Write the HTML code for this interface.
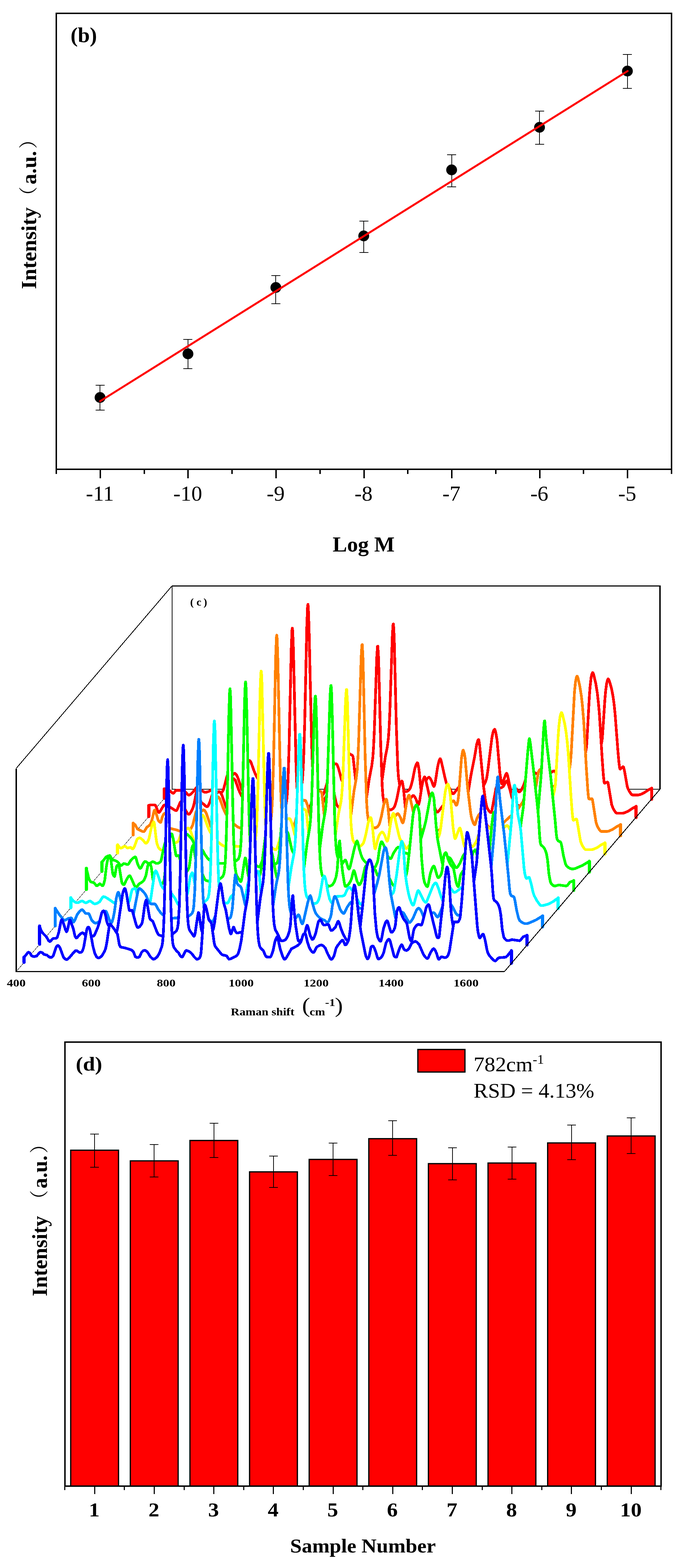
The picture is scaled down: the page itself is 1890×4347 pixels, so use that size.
<!DOCTYPE html>
<html lang="en"><head><meta charset="utf-8"><title>Figure</title>
<style>
html,body{margin:0;padding:0;background:#fff;}
svg{display:block;font-family:'Liberation Serif', 'Noto Serif CJK SC', serif;}
</style></head>
<body>
<svg width="1890" height="4347" viewBox="0 0 1890 4347">
<rect width="1890" height="4347" fill="#fff"/>
<g shape-rendering="crispEdges">
<rect x="156.0" y="37.0" width="1705.0" height="1264.2" fill="none" stroke="#000" stroke-width="4"/>
<line x1="277.79" y1="1301.20" x2="277.79" y2="1326.20" stroke="#000" stroke-width="4" />
<line x1="521.36" y1="1301.20" x2="521.36" y2="1326.20" stroke="#000" stroke-width="4" />
<line x1="764.93" y1="1301.20" x2="764.93" y2="1326.20" stroke="#000" stroke-width="4" />
<line x1="1008.50" y1="1301.20" x2="1008.50" y2="1326.20" stroke="#000" stroke-width="4" />
<line x1="1252.07" y1="1301.20" x2="1252.07" y2="1326.20" stroke="#000" stroke-width="4" />
<line x1="1495.64" y1="1301.20" x2="1495.64" y2="1326.20" stroke="#000" stroke-width="4" />
<line x1="1739.21" y1="1301.20" x2="1739.21" y2="1326.20" stroke="#000" stroke-width="4" />
<line x1="156.00" y1="1301.20" x2="156.00" y2="1314.20" stroke="#000" stroke-width="4" />
<line x1="399.57" y1="1301.20" x2="399.57" y2="1314.20" stroke="#000" stroke-width="4" />
<line x1="643.14" y1="1301.20" x2="643.14" y2="1314.20" stroke="#000" stroke-width="4" />
<line x1="886.71" y1="1301.20" x2="886.71" y2="1314.20" stroke="#000" stroke-width="4" />
<line x1="1130.29" y1="1301.20" x2="1130.29" y2="1314.20" stroke="#000" stroke-width="4" />
<line x1="1373.86" y1="1301.20" x2="1373.86" y2="1314.20" stroke="#000" stroke-width="4" />
<line x1="1617.43" y1="1301.20" x2="1617.43" y2="1314.20" stroke="#000" stroke-width="4" />
<line x1="1861.00" y1="1301.20" x2="1861.00" y2="1314.20" stroke="#000" stroke-width="4" />
</g>
<text x="276.79" y="1387.50" font-size="60" font-weight="normal" text-anchor="middle" >-11</text>
<text x="520.36" y="1387.50" font-size="60" font-weight="normal" text-anchor="middle" >-10</text>
<text x="763.93" y="1387.50" font-size="60" font-weight="normal" text-anchor="middle" >-9</text>
<text x="1007.50" y="1387.50" font-size="60" font-weight="normal" text-anchor="middle" >-8</text>
<text x="1251.07" y="1387.50" font-size="60" font-weight="normal" text-anchor="middle" >-7</text>
<text x="1494.64" y="1387.50" font-size="60" font-weight="normal" text-anchor="middle" >-6</text>
<text x="1738.21" y="1387.50" font-size="60" font-weight="normal" text-anchor="middle" >-5</text>
<text x="1007.70" y="1529.00" font-size="60" font-weight="bold" text-anchor="middle" >Log M</text>
<text transform="translate(100,799.5) rotate(-90)" font-weight="bold" font-size="60"><tspan x="-2" y="0">Intensity</tspan><tspan x="230.3" y="-3" font-size="52" font-weight="normal">（</tspan><tspan x="288" y="0">a.u.</tspan><tspan x="387" y="-3" font-size="52" font-weight="normal">）</tspan></text>
<text x="195.50" y="116.50" font-size="60" font-weight="bold" text-anchor="start" >(b)</text>
<g shape-rendering="crispEdges">
<line x1="277.29" y1="1068.00" x2="277.29" y2="1137.00" stroke="#000" stroke-width="2" />
<line x1="264.79" y1="1068.00" x2="289.79" y2="1068.00" stroke="#000" stroke-width="2" />
<line x1="264.79" y1="1137.00" x2="289.79" y2="1137.00" stroke="#000" stroke-width="2" />
<line x1="520.86" y1="941.00" x2="520.86" y2="1022.00" stroke="#000" stroke-width="2" />
<line x1="508.36" y1="941.00" x2="533.36" y2="941.00" stroke="#000" stroke-width="2" />
<line x1="508.36" y1="1022.00" x2="533.36" y2="1022.00" stroke="#000" stroke-width="2" />
<line x1="764.43" y1="764.00" x2="764.43" y2="842.00" stroke="#000" stroke-width="2" />
<line x1="751.93" y1="764.00" x2="776.93" y2="764.00" stroke="#000" stroke-width="2" />
<line x1="751.93" y1="842.00" x2="776.93" y2="842.00" stroke="#000" stroke-width="2" />
<line x1="1008.00" y1="612.60" x2="1008.00" y2="699.60" stroke="#000" stroke-width="2" />
<line x1="995.50" y1="612.60" x2="1020.50" y2="612.60" stroke="#000" stroke-width="2" />
<line x1="995.50" y1="699.60" x2="1020.50" y2="699.60" stroke="#000" stroke-width="2" />
<line x1="1251.57" y1="428.70" x2="1251.57" y2="518.00" stroke="#000" stroke-width="2" />
<line x1="1239.07" y1="428.70" x2="1264.07" y2="428.70" stroke="#000" stroke-width="2" />
<line x1="1239.07" y1="518.00" x2="1264.07" y2="518.00" stroke="#000" stroke-width="2" />
<line x1="1495.14" y1="308.00" x2="1495.14" y2="400.00" stroke="#000" stroke-width="2" />
<line x1="1482.64" y1="308.00" x2="1507.64" y2="308.00" stroke="#000" stroke-width="2" />
<line x1="1482.64" y1="400.00" x2="1507.64" y2="400.00" stroke="#000" stroke-width="2" />
<line x1="1738.71" y1="151.00" x2="1738.71" y2="244.70" stroke="#000" stroke-width="2" />
<line x1="1726.21" y1="151.00" x2="1751.21" y2="151.00" stroke="#000" stroke-width="2" />
<line x1="1726.21" y1="244.70" x2="1751.21" y2="244.70" stroke="#000" stroke-width="2" />
</g>
<circle cx="277.29" cy="1102" r="15" fill="#000"/>
<circle cx="520.86" cy="981" r="15" fill="#000"/>
<circle cx="764.43" cy="797" r="15" fill="#000"/>
<circle cx="1008.00" cy="654" r="15" fill="#000"/>
<circle cx="1251.57" cy="471" r="15" fill="#000"/>
<circle cx="1495.14" cy="353" r="15" fill="#000"/>
<circle cx="1738.71" cy="197" r="15" fill="#000"/>
<line x1="277.79" y1="1112.00" x2="1739.21" y2="197.00" stroke="#ff0000" stroke-width="5.5" stroke-linecap="round"/>
<g shape-rendering="crispEdges" stroke="#000" fill="none">
<path d="M476.8 2188.0 L476.8 1624.6" stroke-width="2"/>
<path d="M476.0 1624.6 L1830.7 1624.6" stroke-width="3"/>
<path d="M1829.0 1624.6 L1829.0 2188.0" stroke-width="3.4"/>
<path d="M477.0 2188.0 L1829.0 2188.0" stroke-width="2"/>
<path d="M46.0 2692.4 L477.0 2188.0" stroke-width="1"/>
</g>
<g fill="#fff" stroke-width="7.5" stroke-linejoin="round" stroke-linecap="round" shape-rendering="crispEdges">
<path d="M455.4 2213.2L455.4 2186.9L460.4 2186.1L463.4 2186.5L476.4 2197.3L479.4 2199.1L481.4 2198.8L486.4 2192.4L488.4 2191.1L500.4 2191.0L507.4 2192.1L514.4 2196.1L520.4 2202.9L523.4 2204.5L526.4 2203.4L530.4 2200.1L535.4 2195.0L544.4 2183.0L546.4 2182.1L548.4 2183.0L562.4 2194.0L567.4 2196.4L572.4 2196.1L578.4 2194.3L581.4 2192.7L585.4 2189.4L587.4 2188.6L591.4 2190.3L602.4 2198.9L612.4 2199.0L615.4 2196.2L619.4 2188.8L629.4 2150.5L633.4 2142.9L636.4 2140.2L638.4 2141.0L643.4 2148.0L645.4 2147.6L648.4 2144.9L650.4 2144.0L652.4 2144.9L655.4 2148.5L658.4 2154.1L670.4 2189.7L671.4 2191.2L672.4 2191.3L674.4 2186.6L677.4 2172.8L683.4 2133.4L686.4 2118.2L688.4 2110.6L689.4 2108.7L690.4 2108.1L692.4 2109.1L695.4 2112.6L704.4 2138.2L708.4 2147.8L712.4 2155.5L723.4 2172.6L730.4 2180.3L745.4 2191.8L750.4 2193.8L762.4 2195.6L782.4 2194.5L816.4 2195.9L824.4 2194.5L828.4 2192.6L831.4 2190.1L834.4 2184.3L837.4 2168.0L839.4 2144.6L841.4 2104.6L844.4 2005.3L850.4 1731.7L852.4 1681.1L853.4 1675.3L854.4 1683.9L856.4 1739.1L863.4 2050.9L865.4 2109.5L867.4 2147.5L870.4 2176.5L873.4 2187.4L877.4 2193.1L884.4 2199.4L890.4 2203.2L894.4 2204.1L897.4 2199.2L904.4 2177.6L914.4 2138.1L919.4 2125.9L922.4 2121.5L925.4 2118.7L931.4 2117.5L933.4 2118.8L934.4 2120.5L938.4 2130.9L946.4 2161.7L948.4 2165.5L949.4 2161.7L950.4 2149.2L955.4 2071.5L957.4 2057.5L959.4 2051.1L960.4 2050.3L961.4 2052.1L962.4 2056.6L966.4 2087.5L968.4 2089.7L976.4 2094.0L978.4 2097.8L985.4 2162.5L987.4 2173.3L990.4 2179.2L999.4 2189.6L1003.4 2193.3L1010.4 2197.4L1015.4 2198.8L1033.4 2196.5L1045.4 2193.9L1048.4 2192.3L1050.4 2190.5L1053.4 2185.1L1056.4 2175.2L1059.4 2159.3L1067.4 2100.9L1073.4 2070.0L1076.4 2046.1L1078.4 2016.9L1080.4 1973.0L1087.4 1759.9L1089.4 1730.3L1090.4 1729.9L1092.4 1766.6L1098.4 2015.1L1102.4 2127.8L1104.4 2155.7L1107.4 2175.4L1110.4 2182.4L1115.4 2188.9L1119.4 2192.3L1123.4 2194.3L1127.4 2194.3L1132.4 2191.2L1136.4 2186.1L1139.4 2177.5L1143.4 2162.1L1149.4 2131.5L1153.4 2119.5L1156.4 2114.8L1157.4 2115.2L1158.4 2117.7L1161.4 2135.3L1166.4 2187.5L1168.4 2200.2L1169.4 2201.5L1170.4 2199.6L1176.4 2175.6L1179.4 2166.0L1183.4 2159.2L1187.4 2155.2L1189.4 2154.9L1192.4 2158.0L1196.4 2165.7L1200.4 2177.4L1202.4 2180.3L1203.4 2179.4L1204.4 2176.8L1206.4 2168.0L1212.4 2128.4L1214.4 2118.6L1217.4 2107.2L1219.4 2103.4L1220.4 2103.5L1222.4 2108.5L1234.4 2161.6L1237.4 2172.3L1240.4 2177.8L1246.4 2185.6L1252.4 2197.9L1254.4 2200.4L1256.4 2200.5L1258.4 2199.0L1269.4 2184.3L1273.4 2181.1L1275.4 2181.3L1277.4 2182.8L1290.4 2197.7L1293.4 2200.2L1295.4 2200.9L1302.4 2200.0L1316.4 2196.1L1324.4 2193.0L1330.4 2189.7L1335.4 2185.2L1340.4 2178.1L1345.4 2167.6L1348.4 2158.8L1351.4 2140.3L1363.4 2043.8L1366.4 2030.1L1368.4 2024.4L1370.4 2021.9L1371.4 2022.5L1373.4 2027.9L1377.4 2050.7L1385.4 2144.2L1389.4 2170.7L1390.4 2173.1L1391.4 2173.3L1392.4 2172.0L1401.4 2147.4L1403.4 2144.0L1404.4 2144.1L1405.4 2145.9L1407.4 2153.3L1415.4 2191.1L1417.4 2195.3L1418.4 2195.3L1420.4 2193.6L1426.4 2185.7L1428.4 2185.1L1430.4 2186.3L1437.4 2195.0L1439.4 2195.5L1441.4 2194.4L1444.4 2190.5L1450.4 2179.1L1460.4 2149.5L1462.4 2146.8L1466.4 2143.5L1472.4 2140.4L1475.4 2140.0L1479.4 2140.8L1494.4 2148.7L1498.4 2149.8L1501.4 2149.9L1508.4 2148.9L1516.4 2146.4L1526.4 2142.2L1533.4 2137.4L1535.4 2137.2L1537.4 2138.7L1542.4 2147.0L1545.4 2150.2L1553.4 2154.0L1561.4 2157.0L1569.4 2159.0L1576.4 2159.9L1586.4 2159.7L1597.4 2157.9L1608.4 2154.7L1620.4 2149.8L1623.4 2147.7L1627.4 2143.2L1634.4 2131.9L1650.4 2099.2L1660.4 2081.6L1663.4 2074.1L1666.4 2063.8L1668.4 2053.4L1669.4 2043.8L1676.4 1938.1L1678.4 1915.3L1681.4 1893.4L1683.4 1885.6L1685.4 1882.1L1686.4 1882.6L1688.4 1886.8L1694.4 1907.6L1698.4 1928.1L1701.4 1949.1L1704.4 1976.8L1712.4 2082.0L1715.4 2115.0L1717.4 2130.2L1718.4 2132.2L1719.4 2132.1L1726.4 2125.3L1727.4 2125.7L1728.4 2127.6L1730.4 2136.0L1738.4 2181.1L1740.4 2186.8L1743.4 2192.9L1748.4 2200.5L1751.4 2203.4L1753.4 2204.0L1768.4 2204.0L1774.4 2202.7L1784.4 2198.3L1795.4 2190.8L1806.0 2185.2L1806.0 2215.7Z" stroke="none"/>
<path d="M455.4 2213.2L455.4 2186.9L460.4 2186.1L463.4 2186.5L476.4 2197.3L479.4 2199.1L481.4 2198.8L486.4 2192.4L488.4 2191.1L500.4 2191.0L507.4 2192.1L514.4 2196.1L520.4 2202.9L523.4 2204.5L526.4 2203.4L530.4 2200.1L535.4 2195.0L544.4 2183.0L546.4 2182.1L548.4 2183.0L562.4 2194.0L567.4 2196.4L572.4 2196.1L578.4 2194.3L581.4 2192.7L585.4 2189.4L587.4 2188.6L591.4 2190.3L602.4 2198.9L612.4 2199.0L615.4 2196.2L619.4 2188.8L629.4 2150.5L633.4 2142.9L636.4 2140.2L638.4 2141.0L643.4 2148.0L645.4 2147.6L648.4 2144.9L650.4 2144.0L652.4 2144.9L655.4 2148.5L658.4 2154.1L670.4 2189.7L671.4 2191.2L672.4 2191.3L674.4 2186.6L677.4 2172.8L683.4 2133.4L686.4 2118.2L688.4 2110.6L689.4 2108.7L690.4 2108.1L692.4 2109.1L695.4 2112.6L704.4 2138.2L708.4 2147.8L712.4 2155.5L723.4 2172.6L730.4 2180.3L745.4 2191.8L750.4 2193.8L762.4 2195.6L782.4 2194.5L816.4 2195.9L824.4 2194.5L828.4 2192.6L831.4 2190.1L834.4 2184.3L837.4 2168.0L839.4 2144.6L841.4 2104.6L844.4 2005.3L850.4 1731.7L852.4 1681.1L853.4 1675.3L854.4 1683.9L856.4 1739.1L863.4 2050.9L865.4 2109.5L867.4 2147.5L870.4 2176.5L873.4 2187.4L877.4 2193.1L884.4 2199.4L890.4 2203.2L894.4 2204.1L897.4 2199.2L904.4 2177.6L914.4 2138.1L919.4 2125.9L922.4 2121.5L925.4 2118.7L931.4 2117.5L933.4 2118.8L934.4 2120.5L938.4 2130.9L946.4 2161.7L948.4 2165.5L949.4 2161.7L950.4 2149.2L955.4 2071.5L957.4 2057.5L959.4 2051.1L960.4 2050.3L961.4 2052.1L962.4 2056.6L966.4 2087.5L968.4 2089.7L976.4 2094.0L978.4 2097.8L985.4 2162.5L987.4 2173.3L990.4 2179.2L999.4 2189.6L1003.4 2193.3L1010.4 2197.4L1015.4 2198.8L1033.4 2196.5L1045.4 2193.9L1048.4 2192.3L1050.4 2190.5L1053.4 2185.1L1056.4 2175.2L1059.4 2159.3L1067.4 2100.9L1073.4 2070.0L1076.4 2046.1L1078.4 2016.9L1080.4 1973.0L1087.4 1759.9L1089.4 1730.3L1090.4 1729.9L1092.4 1766.6L1098.4 2015.1L1102.4 2127.8L1104.4 2155.7L1107.4 2175.4L1110.4 2182.4L1115.4 2188.9L1119.4 2192.3L1123.4 2194.3L1127.4 2194.3L1132.4 2191.2L1136.4 2186.1L1139.4 2177.5L1143.4 2162.1L1149.4 2131.5L1153.4 2119.5L1156.4 2114.8L1157.4 2115.2L1158.4 2117.7L1161.4 2135.3L1166.4 2187.5L1168.4 2200.2L1169.4 2201.5L1170.4 2199.6L1176.4 2175.6L1179.4 2166.0L1183.4 2159.2L1187.4 2155.2L1189.4 2154.9L1192.4 2158.0L1196.4 2165.7L1200.4 2177.4L1202.4 2180.3L1203.4 2179.4L1204.4 2176.8L1206.4 2168.0L1212.4 2128.4L1214.4 2118.6L1217.4 2107.2L1219.4 2103.4L1220.4 2103.5L1222.4 2108.5L1234.4 2161.6L1237.4 2172.3L1240.4 2177.8L1246.4 2185.6L1252.4 2197.9L1254.4 2200.4L1256.4 2200.5L1258.4 2199.0L1269.4 2184.3L1273.4 2181.1L1275.4 2181.3L1277.4 2182.8L1290.4 2197.7L1293.4 2200.2L1295.4 2200.9L1302.4 2200.0L1316.4 2196.1L1324.4 2193.0L1330.4 2189.7L1335.4 2185.2L1340.4 2178.1L1345.4 2167.6L1348.4 2158.8L1351.4 2140.3L1363.4 2043.8L1366.4 2030.1L1368.4 2024.4L1370.4 2021.9L1371.4 2022.5L1373.4 2027.9L1377.4 2050.7L1385.4 2144.2L1389.4 2170.7L1390.4 2173.1L1391.4 2173.3L1392.4 2172.0L1401.4 2147.4L1403.4 2144.0L1404.4 2144.1L1405.4 2145.9L1407.4 2153.3L1415.4 2191.1L1417.4 2195.3L1418.4 2195.3L1420.4 2193.6L1426.4 2185.7L1428.4 2185.1L1430.4 2186.3L1437.4 2195.0L1439.4 2195.5L1441.4 2194.4L1444.4 2190.5L1450.4 2179.1L1460.4 2149.5L1462.4 2146.8L1466.4 2143.5L1472.4 2140.4L1475.4 2140.0L1479.4 2140.8L1494.4 2148.7L1498.4 2149.8L1501.4 2149.9L1508.4 2148.9L1516.4 2146.4L1526.4 2142.2L1533.4 2137.4L1535.4 2137.2L1537.4 2138.7L1542.4 2147.0L1545.4 2150.2L1553.4 2154.0L1561.4 2157.0L1569.4 2159.0L1576.4 2159.9L1586.4 2159.7L1597.4 2157.9L1608.4 2154.7L1620.4 2149.8L1623.4 2147.7L1627.4 2143.2L1634.4 2131.9L1650.4 2099.2L1660.4 2081.6L1663.4 2074.1L1666.4 2063.8L1668.4 2053.4L1669.4 2043.8L1676.4 1938.1L1678.4 1915.3L1681.4 1893.4L1683.4 1885.6L1685.4 1882.1L1686.4 1882.6L1688.4 1886.8L1694.4 1907.6L1698.4 1928.1L1701.4 1949.1L1704.4 1976.8L1712.4 2082.0L1715.4 2115.0L1717.4 2130.2L1718.4 2132.2L1719.4 2132.1L1726.4 2125.3L1727.4 2125.7L1728.4 2127.6L1730.4 2136.0L1738.4 2181.1L1740.4 2186.8L1743.4 2192.9L1748.4 2200.5L1751.4 2203.4L1753.4 2204.0L1768.4 2204.0L1774.4 2202.7L1784.4 2198.3L1795.4 2190.8L1806.0 2185.2L1806.0 2215.7" fill="none" stroke="#ff0000"/>
<path d="M455.4 2213.2L455.4 2186.9M1806.0 2215.7L1806.0 2185.2" fill="none" stroke="#ff0000" stroke-width="8.7"/>
<path d="M412.2 2263.8L412.2 2232.9L418.2 2231.4L428.2 2231.4L430.2 2232.0L432.2 2235.5L438.2 2250.6L440.2 2252.7L441.2 2252.4L443.2 2250.1L453.2 2233.6L456.2 2231.4L464.2 2233.5L485.2 2246.4L488.2 2247.3L489.2 2246.9L491.2 2243.8L499.2 2224.9L501.2 2222.1L502.2 2222.1L504.2 2225.1L509.2 2237.3L519.2 2254.5L522.2 2257.6L524.2 2257.5L526.2 2255.6L530.2 2249.6L535.2 2238.2L538.2 2227.0L545.2 2190.7L546.2 2187.5L547.2 2186.7L549.2 2191.9L555.2 2220.7L559.2 2225.8L565.2 2230.1L570.2 2234.9L573.2 2236.6L575.2 2236.0L576.2 2234.9L579.2 2229.0L582.2 2221.7L590.2 2196.8L593.2 2191.0L594.2 2190.8L595.2 2191.6L600.2 2198.6L602.2 2198.1L606.2 2194.8L607.2 2194.6L609.2 2195.4L613.2 2200.5L615.2 2204.6L626.2 2237.7L628.2 2241.8L629.2 2241.8L631.2 2237.2L634.2 2223.4L640.2 2183.9L643.2 2168.7L645.2 2161.2L646.2 2159.2L647.2 2158.6L649.2 2159.6L652.2 2163.2L661.2 2188.7L665.2 2198.4L669.2 2206.0L680.2 2223.2L687.2 2230.8L702.2 2242.3L707.2 2244.4L719.2 2246.1L740.2 2245.0L773.2 2246.5L778.2 2246.0L782.2 2244.8L786.2 2242.7L789.2 2239.9L792.2 2232.7L794.2 2221.6L796.2 2200.2L798.2 2163.0L801.2 2067.9L807.2 1797.7L809.2 1747.1L810.2 1741.3L811.2 1749.9L813.2 1805.1L820.2 2111.9L822.2 2167.6L824.2 2203.0L826.2 2223.1L829.2 2236.5L833.2 2242.9L843.2 2251.5L847.2 2254.1L850.2 2255.3L852.2 2254.1L862.2 2227.9L864.2 2224.6L866.2 2224.6L871.2 2230.5L876.2 2234.1L879.2 2235.2L882.2 2234.7L890.2 2230.0L894.2 2226.7L896.2 2223.5L902.2 2210.3L906.2 2203.8L908.2 2197.2L909.2 2190.2L915.2 2124.3L916.2 2116.0L917.2 2113.8L918.2 2118.6L924.2 2184.2L926.2 2200.4L931.2 2224.9L933.2 2231.1L935.2 2234.7L941.2 2240.7L948.2 2244.2L975.2 2245.8L988.2 2248.8L998.2 2248.5L1003.2 2247.4L1006.2 2245.5L1009.2 2240.6L1012.2 2231.2L1015.2 2216.2L1023.2 2159.4L1030.2 2123.4L1033.2 2100.1L1035.2 2071.6L1037.2 2028.7L1044.2 1820.8L1046.2 1791.9L1047.2 1791.5L1049.2 1827.2L1055.2 2069.9L1059.2 2179.9L1061.2 2207.1L1064.2 2226.3L1067.2 2233.1L1072.2 2239.6L1076.2 2242.9L1080.2 2244.9L1084.2 2244.9L1089.2 2241.7L1093.2 2236.7L1096.2 2228.1L1100.2 2212.7L1106.2 2182.0L1110.2 2170.0L1113.2 2165.3L1114.2 2165.8L1115.2 2168.3L1118.2 2185.8L1123.2 2238.0L1125.2 2250.7L1126.2 2252.1L1127.2 2250.2L1133.2 2226.1L1136.2 2216.6L1140.2 2209.8L1144.2 2205.7L1146.2 2205.4L1149.2 2208.6L1153.2 2216.3L1157.2 2228.0L1159.2 2230.8L1160.2 2229.9L1161.2 2227.3L1163.2 2218.5L1169.2 2179.0L1171.2 2169.1L1174.2 2157.7L1176.2 2153.9L1177.2 2154.0L1179.2 2159.1L1191.2 2212.2L1194.2 2222.8L1197.2 2228.4L1203.2 2236.1L1209.2 2248.5L1211.2 2250.9L1213.2 2251.1L1215.2 2249.5L1226.2 2234.9L1230.2 2231.6L1232.2 2231.9L1234.2 2233.3L1247.2 2248.3L1250.2 2250.7L1252.2 2251.4L1258.2 2250.8L1276.2 2246.4L1280.2 2245.0L1284.2 2242.7L1286.2 2240.8L1287.2 2237.6L1290.2 2215.2L1291.2 2212.2L1295.2 2205.7L1297.2 2198.8L1305.2 2149.0L1315.2 2098.5L1321.2 2062.9L1324.2 2053.0L1325.2 2051.0L1326.2 2050.3L1327.2 2052.2L1329.2 2065.9L1340.2 2180.8L1345.2 2218.3L1348.2 2233.7L1350.2 2240.1L1355.2 2248.7L1359.2 2252.5L1361.2 2252.4L1363.2 2246.6L1374.2 2187.0L1376.2 2180.4L1378.2 2180.8L1384.2 2184.8L1387.2 2184.6L1390.2 2183.3L1394.2 2180.6L1396.2 2178.4L1401.2 2168.1L1403.2 2165.5L1404.2 2165.2L1405.2 2166.0L1407.2 2169.8L1413.2 2189.2L1418.2 2209.5L1420.2 2215.3L1423.2 2221.4L1426.2 2226.2L1429.2 2229.4L1435.2 2232.6L1441.2 2234.6L1445.2 2234.7L1447.2 2231.8L1454.2 2205.9L1455.2 2203.2L1457.2 2200.3L1464.2 2197.3L1482.2 2193.1L1491.2 2187.7L1492.2 2187.7L1494.2 2189.3L1499.2 2197.5L1502.2 2200.7L1516.2 2206.9L1529.2 2210.0L1540.2 2210.4L1553.2 2208.7L1566.2 2204.8L1578.2 2199.4L1581.2 2196.3L1584.2 2191.7L1591.2 2176.5L1607.2 2132.3L1617.2 2108.4L1620.2 2098.3L1623.2 2084.7L1625.2 2071.4L1626.2 2059.5L1633.2 1932.0L1635.2 1904.5L1638.2 1878.1L1640.2 1868.7L1642.2 1864.5L1643.2 1865.1L1645.2 1870.2L1651.2 1895.5L1655.2 1920.7L1658.2 1946.8L1661.2 1980.9L1669.2 2109.8L1672.2 2150.0L1674.2 2168.6L1675.2 2171.1L1676.2 2171.3L1683.2 2168.2L1684.2 2168.8L1685.2 2171.2L1695.2 2230.9L1699.2 2241.4L1704.2 2249.7L1707.2 2253.3L1709.2 2254.4L1711.2 2254.5L1725.2 2254.5L1730.2 2253.6L1741.2 2248.8L1752.2 2241.3L1762.8 2235.7L1762.8 2266.3Z" stroke="none"/>
<path d="M412.2 2263.8L412.2 2232.9L418.2 2231.4L428.2 2231.4L430.2 2232.0L432.2 2235.5L438.2 2250.6L440.2 2252.7L441.2 2252.4L443.2 2250.1L453.2 2233.6L456.2 2231.4L464.2 2233.5L485.2 2246.4L488.2 2247.3L489.2 2246.9L491.2 2243.8L499.2 2224.9L501.2 2222.1L502.2 2222.1L504.2 2225.1L509.2 2237.3L519.2 2254.5L522.2 2257.6L524.2 2257.5L526.2 2255.6L530.2 2249.6L535.2 2238.2L538.2 2227.0L545.2 2190.7L546.2 2187.5L547.2 2186.7L549.2 2191.9L555.2 2220.7L559.2 2225.8L565.2 2230.1L570.2 2234.9L573.2 2236.6L575.2 2236.0L576.2 2234.9L579.2 2229.0L582.2 2221.7L590.2 2196.8L593.2 2191.0L594.2 2190.8L595.2 2191.6L600.2 2198.6L602.2 2198.1L606.2 2194.8L607.2 2194.6L609.2 2195.4L613.2 2200.5L615.2 2204.6L626.2 2237.7L628.2 2241.8L629.2 2241.8L631.2 2237.2L634.2 2223.4L640.2 2183.9L643.2 2168.7L645.2 2161.2L646.2 2159.2L647.2 2158.6L649.2 2159.6L652.2 2163.2L661.2 2188.7L665.2 2198.4L669.2 2206.0L680.2 2223.2L687.2 2230.8L702.2 2242.3L707.2 2244.4L719.2 2246.1L740.2 2245.0L773.2 2246.5L778.2 2246.0L782.2 2244.8L786.2 2242.7L789.2 2239.9L792.2 2232.7L794.2 2221.6L796.2 2200.2L798.2 2163.0L801.2 2067.9L807.2 1797.7L809.2 1747.1L810.2 1741.3L811.2 1749.9L813.2 1805.1L820.2 2111.9L822.2 2167.6L824.2 2203.0L826.2 2223.1L829.2 2236.5L833.2 2242.9L843.2 2251.5L847.2 2254.1L850.2 2255.3L852.2 2254.1L862.2 2227.9L864.2 2224.6L866.2 2224.6L871.2 2230.5L876.2 2234.1L879.2 2235.2L882.2 2234.7L890.2 2230.0L894.2 2226.7L896.2 2223.5L902.2 2210.3L906.2 2203.8L908.2 2197.2L909.2 2190.2L915.2 2124.3L916.2 2116.0L917.2 2113.8L918.2 2118.6L924.2 2184.2L926.2 2200.4L931.2 2224.9L933.2 2231.1L935.2 2234.7L941.2 2240.7L948.2 2244.2L975.2 2245.8L988.2 2248.8L998.2 2248.5L1003.2 2247.4L1006.2 2245.5L1009.2 2240.6L1012.2 2231.2L1015.2 2216.2L1023.2 2159.4L1030.2 2123.4L1033.2 2100.1L1035.2 2071.6L1037.2 2028.7L1044.2 1820.8L1046.2 1791.9L1047.2 1791.5L1049.2 1827.2L1055.2 2069.9L1059.2 2179.9L1061.2 2207.1L1064.2 2226.3L1067.2 2233.1L1072.2 2239.6L1076.2 2242.9L1080.2 2244.9L1084.2 2244.9L1089.2 2241.7L1093.2 2236.7L1096.2 2228.1L1100.2 2212.7L1106.2 2182.0L1110.2 2170.0L1113.2 2165.3L1114.2 2165.8L1115.2 2168.3L1118.2 2185.8L1123.2 2238.0L1125.2 2250.7L1126.2 2252.1L1127.2 2250.2L1133.2 2226.1L1136.2 2216.6L1140.2 2209.8L1144.2 2205.7L1146.2 2205.4L1149.2 2208.6L1153.2 2216.3L1157.2 2228.0L1159.2 2230.8L1160.2 2229.9L1161.2 2227.3L1163.2 2218.5L1169.2 2179.0L1171.2 2169.1L1174.2 2157.7L1176.2 2153.9L1177.2 2154.0L1179.2 2159.1L1191.2 2212.2L1194.2 2222.8L1197.2 2228.4L1203.2 2236.1L1209.2 2248.5L1211.2 2250.9L1213.2 2251.1L1215.2 2249.5L1226.2 2234.9L1230.2 2231.6L1232.2 2231.9L1234.2 2233.3L1247.2 2248.3L1250.2 2250.7L1252.2 2251.4L1258.2 2250.8L1276.2 2246.4L1280.2 2245.0L1284.2 2242.7L1286.2 2240.8L1287.2 2237.6L1290.2 2215.2L1291.2 2212.2L1295.2 2205.7L1297.2 2198.8L1305.2 2149.0L1315.2 2098.5L1321.2 2062.9L1324.2 2053.0L1325.2 2051.0L1326.2 2050.3L1327.2 2052.2L1329.2 2065.9L1340.2 2180.8L1345.2 2218.3L1348.2 2233.7L1350.2 2240.1L1355.2 2248.7L1359.2 2252.5L1361.2 2252.4L1363.2 2246.6L1374.2 2187.0L1376.2 2180.4L1378.2 2180.8L1384.2 2184.8L1387.2 2184.6L1390.2 2183.3L1394.2 2180.6L1396.2 2178.4L1401.2 2168.1L1403.2 2165.5L1404.2 2165.2L1405.2 2166.0L1407.2 2169.8L1413.2 2189.2L1418.2 2209.5L1420.2 2215.3L1423.2 2221.4L1426.2 2226.2L1429.2 2229.4L1435.2 2232.6L1441.2 2234.6L1445.2 2234.7L1447.2 2231.8L1454.2 2205.9L1455.2 2203.2L1457.2 2200.3L1464.2 2197.3L1482.2 2193.1L1491.2 2187.7L1492.2 2187.7L1494.2 2189.3L1499.2 2197.5L1502.2 2200.7L1516.2 2206.9L1529.2 2210.0L1540.2 2210.4L1553.2 2208.7L1566.2 2204.8L1578.2 2199.4L1581.2 2196.3L1584.2 2191.7L1591.2 2176.5L1607.2 2132.3L1617.2 2108.4L1620.2 2098.3L1623.2 2084.7L1625.2 2071.4L1626.2 2059.5L1633.2 1932.0L1635.2 1904.5L1638.2 1878.1L1640.2 1868.7L1642.2 1864.5L1643.2 1865.1L1645.2 1870.2L1651.2 1895.5L1655.2 1920.7L1658.2 1946.8L1661.2 1980.9L1669.2 2109.8L1672.2 2150.0L1674.2 2168.6L1675.2 2171.1L1676.2 2171.3L1683.2 2168.2L1684.2 2168.8L1685.2 2171.2L1695.2 2230.9L1699.2 2241.4L1704.2 2249.7L1707.2 2253.3L1709.2 2254.4L1711.2 2254.5L1725.2 2254.5L1730.2 2253.6L1741.2 2248.8L1752.2 2241.3L1762.8 2235.7L1762.8 2266.3" fill="none" stroke="#ff0000"/>
<path d="M412.2 2263.8L412.2 2232.9M1762.8 2266.3L1762.8 2235.7" fill="none" stroke="#ff0000" stroke-width="8.7"/>
<path d="M369.0 2314.3L369.0 2282.2L375.0 2287.1L380.0 2297.0L382.0 2298.9L396.0 2305.5L399.0 2305.5L401.0 2303.3L407.0 2293.1L414.0 2288.3L417.0 2284.6L421.0 2273.7L427.0 2247.9L428.0 2245.9L429.0 2245.6L431.0 2249.9L438.0 2272.5L440.0 2276.4L443.0 2279.5L445.0 2280.0L446.0 2278.6L450.0 2264.2L453.0 2258.0L455.0 2255.5L456.0 2255.1L458.0 2255.5L461.0 2258.1L462.0 2261.2L466.0 2287.7L468.0 2294.8L471.0 2296.5L488.0 2300.5L503.0 2305.8L504.0 2305.6L505.0 2304.0L508.0 2295.1L509.0 2294.3L511.0 2295.3L515.0 2299.2L517.0 2300.2L526.0 2300.1L529.0 2297.3L534.0 2287.2L543.0 2251.6L547.0 2244.0L550.0 2241.2L552.0 2242.1L557.0 2249.1L559.0 2248.6L562.0 2246.0L564.0 2245.1L566.0 2246.0L569.0 2249.5L572.0 2255.2L584.0 2290.7L585.0 2292.3L586.0 2292.4L588.0 2287.7L591.0 2273.9L597.0 2234.5L600.0 2219.3L602.0 2211.7L603.0 2209.7L604.0 2209.2L606.0 2210.2L609.0 2213.7L618.0 2239.3L622.0 2248.9L626.0 2256.5L637.0 2273.7L644.0 2281.4L659.0 2292.8L664.0 2294.9L676.0 2296.6L696.0 2295.5L730.0 2297.0L735.0 2296.4L739.0 2295.1L743.0 2293.0L746.0 2290.3L749.0 2283.6L751.0 2272.8L753.0 2251.6L755.0 2213.8L758.0 2114.4L764.0 1822.7L766.0 1767.3L767.0 1761.0L768.0 1770.4L770.0 1830.8L777.0 2160.8L779.0 2218.5L781.0 2254.4L783.0 2274.2L786.0 2287.1L790.0 2293.2L798.0 2300.4L803.0 2303.6L806.0 2305.0L808.0 2305.1L811.0 2300.2L818.0 2278.6L828.0 2239.1L833.0 2227.0L836.0 2222.6L839.0 2219.8L845.0 2218.6L847.0 2219.9L848.0 2221.5L852.0 2231.9L860.0 2262.7L862.0 2266.6L863.0 2262.8L864.0 2250.2L869.0 2172.6L871.0 2158.6L873.0 2152.2L874.0 2151.4L875.0 2153.2L876.0 2157.6L880.0 2188.5L882.0 2190.8L890.0 2195.1L892.0 2198.9L899.0 2263.6L901.0 2274.3L904.0 2280.2L913.0 2290.6L917.0 2294.4L924.0 2298.4L929.0 2299.9L947.0 2297.5L959.0 2294.8L962.0 2293.1L964.0 2291.0L967.0 2285.2L970.0 2274.4L973.0 2257.0L981.0 2193.3L987.0 2159.5L990.0 2133.4L992.0 2101.3L994.0 2053.2L1001.0 1820.0L1003.0 1787.7L1004.0 1787.2L1006.0 1827.4L1012.0 2099.5L1016.0 2223.0L1018.0 2253.5L1021.0 2275.1L1024.0 2282.7L1029.0 2289.6L1032.0 2292.4L1037.0 2295.1L1041.0 2295.2L1046.0 2292.1L1050.0 2287.1L1053.0 2278.5L1057.0 2263.1L1063.0 2232.5L1067.0 2220.5L1070.0 2215.8L1071.0 2216.2L1072.0 2218.7L1075.0 2236.3L1080.0 2288.5L1082.0 2301.2L1083.0 2302.5L1084.0 2300.7L1090.0 2276.6L1093.0 2267.1L1097.0 2260.3L1101.0 2256.2L1103.0 2255.9L1106.0 2259.1L1110.0 2266.8L1114.0 2278.5L1116.0 2281.3L1117.0 2280.4L1118.0 2277.8L1120.0 2269.0L1126.0 2229.5L1128.0 2219.6L1131.0 2208.2L1133.0 2204.5L1134.0 2204.5L1136.0 2209.6L1148.0 2262.7L1151.0 2273.3L1154.0 2278.9L1160.0 2286.7L1167.0 2300.5L1169.0 2301.8L1171.0 2301.0L1184.0 2284.3L1186.0 2282.6L1188.0 2282.1L1191.0 2283.9L1198.0 2292.4L1207.0 2301.3L1210.0 2302.0L1215.0 2301.5L1221.0 2299.9L1224.0 2298.4L1227.0 2289.9L1235.0 2242.4L1237.0 2232.8L1239.0 2227.2L1241.0 2225.8L1249.0 2224.8L1255.0 2220.7L1257.0 2220.1L1259.0 2222.2L1264.0 2232.3L1265.0 2232.5L1266.0 2231.3L1267.0 2228.7L1269.0 2220.2L1271.0 2205.4L1279.0 2101.0L1282.0 2083.0L1283.0 2080.2L1284.0 2079.8L1287.0 2089.5L1289.0 2102.0L1296.0 2185.5L1304.0 2251.4L1306.0 2263.4L1308.0 2271.2L1312.0 2282.4L1315.0 2286.4L1316.0 2286.3L1317.0 2284.7L1321.0 2270.9L1323.0 2266.0L1327.0 2258.7L1330.0 2256.2L1331.0 2256.3L1333.0 2258.8L1340.0 2274.9L1348.0 2285.6L1354.0 2291.8L1358.0 2294.3L1361.0 2294.9L1367.0 2294.4L1374.0 2292.4L1385.0 2287.5L1394.0 2282.4L1411.0 2265.9L1427.0 2252.9L1434.0 2245.0L1447.0 2225.7L1448.0 2225.2L1449.0 2225.7L1453.0 2234.2L1455.0 2236.8L1461.0 2235.7L1469.0 2230.8L1471.0 2228.8L1473.0 2225.5L1477.0 2214.4L1486.0 2176.3L1492.0 2140.4L1494.0 2136.3L1497.0 2133.0L1498.0 2133.0L1499.0 2134.1L1500.0 2136.3L1509.0 2168.0L1511.0 2170.9L1518.0 2176.3L1526.0 2179.6L1530.0 2180.0L1535.0 2179.4L1544.0 2175.9L1555.0 2168.8L1565.0 2160.7L1571.0 2152.9L1576.0 2141.9L1579.0 2127.1L1581.0 2112.3L1583.0 2088.3L1592.0 1918.7L1595.0 1889.5L1597.0 1879.2L1599.0 1874.5L1600.0 1875.2L1602.0 1880.8L1607.0 1903.2L1611.0 1928.8L1614.0 1955.3L1618.0 2003.8L1625.0 2130.9L1629.0 2191.4L1631.0 2211.9L1632.0 2214.8L1636.0 2215.1L1640.0 2214.2L1641.0 2215.0L1642.0 2217.6L1652.0 2281.0L1656.0 2291.8L1661.0 2300.2L1664.0 2303.8L1666.0 2304.9L1668.0 2305.1L1682.0 2305.0L1687.0 2304.1L1698.0 2299.3L1709.0 2291.8L1719.6 2286.3L1719.6 2316.8Z" stroke="none"/>
<path d="M369.0 2314.3L369.0 2282.2L375.0 2287.1L380.0 2297.0L382.0 2298.9L396.0 2305.5L399.0 2305.5L401.0 2303.3L407.0 2293.1L414.0 2288.3L417.0 2284.6L421.0 2273.7L427.0 2247.9L428.0 2245.9L429.0 2245.6L431.0 2249.9L438.0 2272.5L440.0 2276.4L443.0 2279.5L445.0 2280.0L446.0 2278.6L450.0 2264.2L453.0 2258.0L455.0 2255.5L456.0 2255.1L458.0 2255.5L461.0 2258.1L462.0 2261.2L466.0 2287.7L468.0 2294.8L471.0 2296.5L488.0 2300.5L503.0 2305.8L504.0 2305.6L505.0 2304.0L508.0 2295.1L509.0 2294.3L511.0 2295.3L515.0 2299.2L517.0 2300.2L526.0 2300.1L529.0 2297.3L534.0 2287.2L543.0 2251.6L547.0 2244.0L550.0 2241.2L552.0 2242.1L557.0 2249.1L559.0 2248.6L562.0 2246.0L564.0 2245.1L566.0 2246.0L569.0 2249.5L572.0 2255.2L584.0 2290.7L585.0 2292.3L586.0 2292.4L588.0 2287.7L591.0 2273.9L597.0 2234.5L600.0 2219.3L602.0 2211.7L603.0 2209.7L604.0 2209.2L606.0 2210.2L609.0 2213.7L618.0 2239.3L622.0 2248.9L626.0 2256.5L637.0 2273.7L644.0 2281.4L659.0 2292.8L664.0 2294.9L676.0 2296.6L696.0 2295.5L730.0 2297.0L735.0 2296.4L739.0 2295.1L743.0 2293.0L746.0 2290.3L749.0 2283.6L751.0 2272.8L753.0 2251.6L755.0 2213.8L758.0 2114.4L764.0 1822.7L766.0 1767.3L767.0 1761.0L768.0 1770.4L770.0 1830.8L777.0 2160.8L779.0 2218.5L781.0 2254.4L783.0 2274.2L786.0 2287.1L790.0 2293.2L798.0 2300.4L803.0 2303.6L806.0 2305.0L808.0 2305.1L811.0 2300.2L818.0 2278.6L828.0 2239.1L833.0 2227.0L836.0 2222.6L839.0 2219.8L845.0 2218.6L847.0 2219.9L848.0 2221.5L852.0 2231.9L860.0 2262.7L862.0 2266.6L863.0 2262.8L864.0 2250.2L869.0 2172.6L871.0 2158.6L873.0 2152.2L874.0 2151.4L875.0 2153.2L876.0 2157.6L880.0 2188.5L882.0 2190.8L890.0 2195.1L892.0 2198.9L899.0 2263.6L901.0 2274.3L904.0 2280.2L913.0 2290.6L917.0 2294.4L924.0 2298.4L929.0 2299.9L947.0 2297.5L959.0 2294.8L962.0 2293.1L964.0 2291.0L967.0 2285.2L970.0 2274.4L973.0 2257.0L981.0 2193.3L987.0 2159.5L990.0 2133.4L992.0 2101.3L994.0 2053.2L1001.0 1820.0L1003.0 1787.7L1004.0 1787.2L1006.0 1827.4L1012.0 2099.5L1016.0 2223.0L1018.0 2253.5L1021.0 2275.1L1024.0 2282.7L1029.0 2289.6L1032.0 2292.4L1037.0 2295.1L1041.0 2295.2L1046.0 2292.1L1050.0 2287.1L1053.0 2278.5L1057.0 2263.1L1063.0 2232.5L1067.0 2220.5L1070.0 2215.8L1071.0 2216.2L1072.0 2218.7L1075.0 2236.3L1080.0 2288.5L1082.0 2301.2L1083.0 2302.5L1084.0 2300.7L1090.0 2276.6L1093.0 2267.1L1097.0 2260.3L1101.0 2256.2L1103.0 2255.9L1106.0 2259.1L1110.0 2266.8L1114.0 2278.5L1116.0 2281.3L1117.0 2280.4L1118.0 2277.8L1120.0 2269.0L1126.0 2229.5L1128.0 2219.6L1131.0 2208.2L1133.0 2204.5L1134.0 2204.5L1136.0 2209.6L1148.0 2262.7L1151.0 2273.3L1154.0 2278.9L1160.0 2286.7L1167.0 2300.5L1169.0 2301.8L1171.0 2301.0L1184.0 2284.3L1186.0 2282.6L1188.0 2282.1L1191.0 2283.9L1198.0 2292.4L1207.0 2301.3L1210.0 2302.0L1215.0 2301.5L1221.0 2299.9L1224.0 2298.4L1227.0 2289.9L1235.0 2242.4L1237.0 2232.8L1239.0 2227.2L1241.0 2225.8L1249.0 2224.8L1255.0 2220.7L1257.0 2220.1L1259.0 2222.2L1264.0 2232.3L1265.0 2232.5L1266.0 2231.3L1267.0 2228.7L1269.0 2220.2L1271.0 2205.4L1279.0 2101.0L1282.0 2083.0L1283.0 2080.2L1284.0 2079.8L1287.0 2089.5L1289.0 2102.0L1296.0 2185.5L1304.0 2251.4L1306.0 2263.4L1308.0 2271.2L1312.0 2282.4L1315.0 2286.4L1316.0 2286.3L1317.0 2284.7L1321.0 2270.9L1323.0 2266.0L1327.0 2258.7L1330.0 2256.2L1331.0 2256.3L1333.0 2258.8L1340.0 2274.9L1348.0 2285.6L1354.0 2291.8L1358.0 2294.3L1361.0 2294.9L1367.0 2294.4L1374.0 2292.4L1385.0 2287.5L1394.0 2282.4L1411.0 2265.9L1427.0 2252.9L1434.0 2245.0L1447.0 2225.7L1448.0 2225.2L1449.0 2225.7L1453.0 2234.2L1455.0 2236.8L1461.0 2235.7L1469.0 2230.8L1471.0 2228.8L1473.0 2225.5L1477.0 2214.4L1486.0 2176.3L1492.0 2140.4L1494.0 2136.3L1497.0 2133.0L1498.0 2133.0L1499.0 2134.1L1500.0 2136.3L1509.0 2168.0L1511.0 2170.9L1518.0 2176.3L1526.0 2179.6L1530.0 2180.0L1535.0 2179.4L1544.0 2175.9L1555.0 2168.8L1565.0 2160.7L1571.0 2152.9L1576.0 2141.9L1579.0 2127.1L1581.0 2112.3L1583.0 2088.3L1592.0 1918.7L1595.0 1889.5L1597.0 1879.2L1599.0 1874.5L1600.0 1875.2L1602.0 1880.8L1607.0 1903.2L1611.0 1928.8L1614.0 1955.3L1618.0 2003.8L1625.0 2130.9L1629.0 2191.4L1631.0 2211.9L1632.0 2214.8L1636.0 2215.1L1640.0 2214.2L1641.0 2215.0L1642.0 2217.6L1652.0 2281.0L1656.0 2291.8L1661.0 2300.2L1664.0 2303.8L1666.0 2304.9L1668.0 2305.1L1682.0 2305.0L1687.0 2304.1L1698.0 2299.3L1709.0 2291.8L1719.6 2286.3L1719.6 2316.8" fill="none" stroke="#ff8000"/>
<path d="M369.0 2314.3L369.0 2282.2M1719.6 2316.8L1719.6 2286.3" fill="none" stroke="#ff8000" stroke-width="8.7"/>
<path d="M325.8 2364.9L325.8 2342.3L331.8 2349.4L334.8 2351.3L337.8 2350.5L342.8 2347.1L345.8 2346.1L347.8 2346.7L351.8 2350.0L353.8 2350.9L361.8 2349.1L363.8 2350.4L365.8 2352.9L367.8 2353.7L369.8 2351.8L372.8 2345.9L379.8 2326.9L381.8 2324.6L386.8 2323.0L388.8 2323.3L391.8 2325.2L397.8 2331.0L402.8 2337.0L404.8 2337.8L405.8 2337.6L408.8 2334.1L412.8 2325.3L419.8 2293.2L422.8 2283.9L425.8 2278.4L426.8 2279.6L427.8 2284.0L432.8 2326.0L434.8 2338.0L438.8 2349.1L441.8 2353.0L445.8 2356.2L448.8 2356.8L456.8 2356.5L459.8 2354.2L465.8 2346.4L468.8 2343.5L488.8 2335.5L492.8 2333.0L494.8 2330.4L497.8 2323.2L501.8 2311.0L505.8 2294.5L506.8 2292.4L507.8 2291.9L513.8 2299.7L515.8 2299.2L518.8 2296.6L520.8 2295.7L522.8 2296.5L525.8 2300.1L528.8 2305.7L540.8 2341.3L541.8 2342.8L542.8 2342.9L544.8 2338.2L547.8 2324.5L553.8 2285.0L556.8 2269.8L558.8 2262.2L559.8 2260.3L560.8 2259.7L562.8 2260.7L565.8 2264.3L574.8 2289.8L578.8 2299.4L582.8 2307.1L593.8 2324.2L600.8 2331.9L615.8 2343.4L620.8 2345.4L632.8 2347.2L653.8 2346.1L686.8 2347.7L694.8 2346.3L699.8 2344.1L702.8 2341.7L705.8 2336.2L707.8 2327.4L709.8 2309.5L711.8 2276.8L714.8 2188.1L720.8 1918.4L722.8 1866.4L723.8 1860.5L724.8 1869.4L725.8 1892.0L732.8 2195.6L734.8 2258.1L736.8 2298.5L738.8 2321.6L741.8 2336.8L743.8 2340.8L746.8 2344.3L754.8 2351.2L760.8 2354.9L764.8 2355.8L767.8 2350.9L774.8 2329.2L784.8 2289.8L789.8 2277.6L792.8 2273.2L795.8 2270.4L801.8 2269.2L803.8 2270.5L804.8 2272.1L808.8 2282.5L816.8 2313.3L818.8 2317.2L819.8 2313.4L820.8 2300.8L825.8 2223.2L827.8 2209.2L829.8 2202.8L830.8 2202.0L831.8 2203.8L832.8 2208.2L836.8 2239.1L838.8 2241.4L846.8 2245.7L848.8 2249.5L855.8 2314.2L857.8 2324.9L860.8 2330.8L869.8 2341.2L873.8 2345.0L880.8 2349.0L885.8 2350.5L892.8 2349.9L915.8 2345.7L920.8 2342.4L923.8 2337.4L926.8 2328.1L929.8 2313.2L937.8 2258.4L944.8 2223.8L946.8 2207.2L948.8 2179.9L950.8 2138.8L957.8 1939.6L959.8 1911.9L960.8 1911.5L962.8 1945.8L968.8 2178.2L972.8 2283.5L974.8 2309.6L977.8 2328.0L980.8 2334.5L986.8 2341.9L989.8 2344.1L993.8 2346.1L997.8 2346.1L1002.8 2342.9L1006.8 2337.8L1009.8 2329.2L1013.8 2313.8L1019.8 2283.2L1023.8 2271.1L1026.8 2266.4L1027.8 2266.9L1028.8 2269.4L1031.8 2286.9L1036.8 2339.1L1038.8 2351.8L1039.8 2353.2L1040.8 2351.3L1046.8 2327.2L1049.8 2317.7L1053.8 2310.9L1057.8 2306.8L1059.8 2306.5L1062.8 2309.7L1066.8 2317.4L1070.8 2329.1L1072.8 2331.9L1073.8 2331.0L1074.8 2328.4L1076.8 2319.6L1082.8 2280.0L1084.8 2270.2L1087.8 2258.8L1089.8 2255.0L1090.8 2255.1L1092.8 2260.2L1104.8 2313.2L1107.8 2323.9L1110.8 2329.5L1116.8 2337.2L1122.8 2349.5L1124.8 2352.0L1126.8 2352.2L1128.8 2350.6L1139.8 2336.0L1143.8 2332.7L1145.8 2332.9L1147.8 2334.4L1160.8 2349.3L1163.8 2351.8L1165.8 2352.5L1172.8 2351.6L1186.8 2347.7L1194.8 2344.7L1200.8 2341.3L1205.8 2336.8L1210.8 2329.7L1215.8 2319.2L1218.8 2310.4L1221.8 2292.0L1233.8 2195.4L1236.8 2181.7L1238.8 2176.1L1240.8 2173.5L1241.8 2174.2L1243.8 2179.5L1247.8 2202.3L1255.8 2295.8L1259.8 2322.3L1260.8 2324.8L1261.8 2324.9L1262.8 2323.6L1271.8 2299.0L1273.8 2295.6L1274.8 2295.7L1275.8 2297.5L1277.8 2304.9L1285.8 2342.7L1287.8 2346.9L1288.8 2346.9L1290.8 2345.2L1296.8 2337.4L1298.8 2336.8L1300.8 2338.0L1307.8 2346.6L1309.8 2347.1L1311.8 2346.1L1314.8 2342.1L1320.8 2330.7L1330.8 2301.1L1332.8 2298.5L1336.8 2295.1L1342.8 2292.0L1345.8 2291.6L1349.8 2292.4L1364.8 2300.3L1368.8 2301.5L1371.8 2301.6L1378.8 2300.5L1386.8 2298.0L1396.8 2293.9L1403.8 2289.1L1405.8 2288.8L1407.8 2290.3L1412.8 2298.6L1415.8 2301.8L1423.8 2305.6L1431.8 2308.6L1439.8 2310.6L1446.8 2311.5L1456.8 2311.3L1467.8 2309.5L1478.8 2306.2L1490.8 2301.1L1493.8 2298.7L1497.8 2293.1L1504.8 2278.4L1520.8 2235.9L1530.8 2212.9L1533.8 2203.2L1536.8 2190.1L1538.8 2177.2L1539.8 2165.7L1546.8 2041.3L1548.8 2014.5L1551.8 1988.8L1553.8 1979.6L1555.8 1975.5L1556.8 1976.0L1558.8 1981.0L1564.8 2005.7L1568.8 2030.2L1571.8 2055.5L1574.8 2088.7L1582.8 2214.2L1585.8 2253.4L1587.8 2271.4L1588.8 2273.9L1589.8 2274.1L1596.8 2270.4L1597.8 2271.0L1598.8 2273.3L1608.8 2332.1L1612.8 2342.5L1617.8 2350.7L1620.8 2354.3L1622.8 2355.5L1624.8 2355.6L1638.8 2355.6L1643.8 2354.7L1654.8 2349.9L1665.8 2342.4L1676.4 2336.8L1676.4 2367.4Z" stroke="none"/>
<path d="M325.8 2364.9L325.8 2342.3L331.8 2349.4L334.8 2351.3L337.8 2350.5L342.8 2347.1L345.8 2346.1L347.8 2346.7L351.8 2350.0L353.8 2350.9L361.8 2349.1L363.8 2350.4L365.8 2352.9L367.8 2353.7L369.8 2351.8L372.8 2345.9L379.8 2326.9L381.8 2324.6L386.8 2323.0L388.8 2323.3L391.8 2325.2L397.8 2331.0L402.8 2337.0L404.8 2337.8L405.8 2337.6L408.8 2334.1L412.8 2325.3L419.8 2293.2L422.8 2283.9L425.8 2278.4L426.8 2279.6L427.8 2284.0L432.8 2326.0L434.8 2338.0L438.8 2349.1L441.8 2353.0L445.8 2356.2L448.8 2356.8L456.8 2356.5L459.8 2354.2L465.8 2346.4L468.8 2343.5L488.8 2335.5L492.8 2333.0L494.8 2330.4L497.8 2323.2L501.8 2311.0L505.8 2294.5L506.8 2292.4L507.8 2291.9L513.8 2299.7L515.8 2299.2L518.8 2296.6L520.8 2295.7L522.8 2296.5L525.8 2300.1L528.8 2305.7L540.8 2341.3L541.8 2342.8L542.8 2342.9L544.8 2338.2L547.8 2324.5L553.8 2285.0L556.8 2269.8L558.8 2262.2L559.8 2260.3L560.8 2259.7L562.8 2260.7L565.8 2264.3L574.8 2289.8L578.8 2299.4L582.8 2307.1L593.8 2324.2L600.8 2331.9L615.8 2343.4L620.8 2345.4L632.8 2347.2L653.8 2346.1L686.8 2347.7L694.8 2346.3L699.8 2344.1L702.8 2341.7L705.8 2336.2L707.8 2327.4L709.8 2309.5L711.8 2276.8L714.8 2188.1L720.8 1918.4L722.8 1866.4L723.8 1860.5L724.8 1869.4L725.8 1892.0L732.8 2195.6L734.8 2258.1L736.8 2298.5L738.8 2321.6L741.8 2336.8L743.8 2340.8L746.8 2344.3L754.8 2351.2L760.8 2354.9L764.8 2355.8L767.8 2350.9L774.8 2329.2L784.8 2289.8L789.8 2277.6L792.8 2273.2L795.8 2270.4L801.8 2269.2L803.8 2270.5L804.8 2272.1L808.8 2282.5L816.8 2313.3L818.8 2317.2L819.8 2313.4L820.8 2300.8L825.8 2223.2L827.8 2209.2L829.8 2202.8L830.8 2202.0L831.8 2203.8L832.8 2208.2L836.8 2239.1L838.8 2241.4L846.8 2245.7L848.8 2249.5L855.8 2314.2L857.8 2324.9L860.8 2330.8L869.8 2341.2L873.8 2345.0L880.8 2349.0L885.8 2350.5L892.8 2349.9L915.8 2345.7L920.8 2342.4L923.8 2337.4L926.8 2328.1L929.8 2313.2L937.8 2258.4L944.8 2223.8L946.8 2207.2L948.8 2179.9L950.8 2138.8L957.8 1939.6L959.8 1911.9L960.8 1911.5L962.8 1945.8L968.8 2178.2L972.8 2283.5L974.8 2309.6L977.8 2328.0L980.8 2334.5L986.8 2341.9L989.8 2344.1L993.8 2346.1L997.8 2346.1L1002.8 2342.9L1006.8 2337.8L1009.8 2329.2L1013.8 2313.8L1019.8 2283.2L1023.8 2271.1L1026.8 2266.4L1027.8 2266.9L1028.8 2269.4L1031.8 2286.9L1036.8 2339.1L1038.8 2351.8L1039.8 2353.2L1040.8 2351.3L1046.8 2327.2L1049.8 2317.7L1053.8 2310.9L1057.8 2306.8L1059.8 2306.5L1062.8 2309.7L1066.8 2317.4L1070.8 2329.1L1072.8 2331.9L1073.8 2331.0L1074.8 2328.4L1076.8 2319.6L1082.8 2280.0L1084.8 2270.2L1087.8 2258.8L1089.8 2255.0L1090.8 2255.1L1092.8 2260.2L1104.8 2313.2L1107.8 2323.9L1110.8 2329.5L1116.8 2337.2L1122.8 2349.5L1124.8 2352.0L1126.8 2352.2L1128.8 2350.6L1139.8 2336.0L1143.8 2332.7L1145.8 2332.9L1147.8 2334.4L1160.8 2349.3L1163.8 2351.8L1165.8 2352.5L1172.8 2351.6L1186.8 2347.7L1194.8 2344.7L1200.8 2341.3L1205.8 2336.8L1210.8 2329.7L1215.8 2319.2L1218.8 2310.4L1221.8 2292.0L1233.8 2195.4L1236.8 2181.7L1238.8 2176.1L1240.8 2173.5L1241.8 2174.2L1243.8 2179.5L1247.8 2202.3L1255.8 2295.8L1259.8 2322.3L1260.8 2324.8L1261.8 2324.9L1262.8 2323.6L1271.8 2299.0L1273.8 2295.6L1274.8 2295.7L1275.8 2297.5L1277.8 2304.9L1285.8 2342.7L1287.8 2346.9L1288.8 2346.9L1290.8 2345.2L1296.8 2337.4L1298.8 2336.8L1300.8 2338.0L1307.8 2346.6L1309.8 2347.1L1311.8 2346.1L1314.8 2342.1L1320.8 2330.7L1330.8 2301.1L1332.8 2298.5L1336.8 2295.1L1342.8 2292.0L1345.8 2291.6L1349.8 2292.4L1364.8 2300.3L1368.8 2301.5L1371.8 2301.6L1378.8 2300.5L1386.8 2298.0L1396.8 2293.9L1403.8 2289.1L1405.8 2288.8L1407.8 2290.3L1412.8 2298.6L1415.8 2301.8L1423.8 2305.6L1431.8 2308.6L1439.8 2310.6L1446.8 2311.5L1456.8 2311.3L1467.8 2309.5L1478.8 2306.2L1490.8 2301.1L1493.8 2298.7L1497.8 2293.1L1504.8 2278.4L1520.8 2235.9L1530.8 2212.9L1533.8 2203.2L1536.8 2190.1L1538.8 2177.2L1539.8 2165.7L1546.8 2041.3L1548.8 2014.5L1551.8 1988.8L1553.8 1979.6L1555.8 1975.5L1556.8 1976.0L1558.8 1981.0L1564.8 2005.7L1568.8 2030.2L1571.8 2055.5L1574.8 2088.7L1582.8 2214.2L1585.8 2253.4L1587.8 2271.4L1588.8 2273.9L1589.8 2274.1L1596.8 2270.4L1597.8 2271.0L1598.8 2273.3L1608.8 2332.1L1612.8 2342.5L1617.8 2350.7L1620.8 2354.3L1622.8 2355.5L1624.8 2355.6L1638.8 2355.6L1643.8 2354.7L1654.8 2349.9L1665.8 2342.4L1676.4 2336.8L1676.4 2367.4" fill="none" stroke="#ffff00"/>
<path d="M325.8 2364.9L325.8 2342.3M1676.4 2367.4L1676.4 2336.8" fill="none" stroke="#ffff00" stroke-width="8.7"/>
<path d="M282.6 2415.4L282.6 2389.7L286.6 2385.4L293.6 2376.1L298.6 2373.2L303.6 2372.1L305.6 2373.4L310.6 2382.5L312.6 2383.7L320.6 2386.2L325.6 2389.0L328.6 2391.9L332.6 2398.1L334.6 2399.8L336.6 2399.3L342.6 2394.1L345.6 2394.4L352.6 2396.8L354.6 2396.7L356.6 2394.8L361.6 2386.5L365.6 2381.9L369.6 2378.2L374.6 2375.6L375.6 2375.9L376.6 2377.6L380.6 2392.6L383.6 2400.2L386.6 2406.0L388.6 2407.5L390.6 2406.2L396.6 2394.6L399.6 2390.0L401.6 2388.2L404.6 2388.8L409.6 2392.6L412.6 2393.9L415.6 2393.2L420.6 2390.1L423.6 2389.0L426.6 2389.8L432.6 2393.6L437.6 2393.4L441.6 2391.5L444.6 2389.2L446.6 2384.9L454.6 2346.7L456.6 2339.0L457.6 2336.3L458.6 2335.3L460.6 2337.4L464.6 2347.7L470.6 2371.9L476.6 2391.1L482.6 2401.3L484.6 2403.0L486.6 2403.1L489.6 2401.1L492.6 2397.0L499.6 2382.0L511.6 2320.6L513.6 2313.5L514.6 2311.9L515.6 2311.4L518.6 2312.8L523.6 2317.1L530.6 2325.0L534.6 2331.5L540.6 2346.2L544.6 2352.3L547.6 2354.2L557.6 2354.2L559.6 2355.0L562.6 2359.1L567.6 2368.6L574.6 2378.6L578.6 2382.9L582.6 2385.2L601.6 2393.7L625.6 2393.5L638.6 2394.9L641.6 2394.4L644.6 2393.0L655.6 2385.9L660.6 2381.4L663.6 2374.2L665.6 2362.4L667.6 2338.9L669.6 2297.2L672.6 2190.3L677.6 1951.6L679.6 1896.7L680.6 1890.4L681.6 1899.8L683.6 1959.5L689.6 2239.5L691.6 2302.4L693.6 2342.0L695.6 2364.0L698.6 2378.1L707.6 2395.8L710.6 2399.6L714.6 2402.3L718.6 2403.5L720.6 2401.7L726.6 2386.6L728.6 2383.3L729.6 2382.8L731.6 2383.7L736.6 2389.5L742.6 2394.5L748.6 2397.6L754.6 2397.5L762.6 2395.9L766.6 2393.7L768.6 2391.0L770.6 2384.3L773.6 2367.2L779.6 2289.7L781.6 2273.8L782.6 2275.2L786.6 2297.4L789.6 2301.5L795.6 2305.5L798.6 2310.6L808.6 2354.8L811.6 2362.1L815.6 2367.9L822.6 2373.7L838.6 2382.9L846.6 2386.6L856.6 2389.4L866.6 2391.2L872.6 2390.9L876.6 2388.5L879.6 2383.4L882.6 2373.7L885.6 2357.8L894.6 2287.2L901.6 2248.4L903.6 2230.0L905.6 2199.7L907.6 2153.9L914.6 1931.4L916.6 1900.8L917.6 1900.6L918.6 1913.8L920.6 1975.9L927.6 2273.6L929.6 2322.3L931.6 2352.0L933.6 2368.2L935.6 2376.3L943.6 2391.0L946.6 2394.7L948.6 2394.5L954.6 2385.8L956.6 2384.2L957.6 2384.5L959.6 2388.3L964.6 2405.4L966.6 2409.1L967.6 2409.1L968.6 2407.9L970.6 2402.1L982.6 2349.6L987.6 2333.8L988.6 2331.8L989.6 2331.3L991.6 2335.3L995.6 2352.7L1000.6 2369.9L1003.6 2378.0L1005.6 2381.5L1010.6 2388.0L1015.6 2392.7L1020.6 2396.1L1029.6 2400.2L1034.6 2404.5L1036.6 2405.5L1038.6 2405.0L1040.6 2402.7L1045.6 2391.2L1047.6 2382.7L1050.6 2359.9L1053.6 2343.4L1055.6 2335.8L1056.6 2333.9L1057.6 2333.5L1059.6 2335.4L1063.6 2343.3L1071.6 2368.1L1076.6 2376.4L1080.6 2380.3L1082.6 2380.5L1084.6 2378.3L1091.6 2363.3L1099.6 2351.6L1103.6 2348.5L1105.6 2348.5L1107.6 2349.7L1116.6 2360.9L1118.6 2362.7L1121.6 2364.1L1130.6 2367.1L1138.6 2368.3L1142.6 2367.5L1145.6 2365.2L1150.6 2358.8L1155.6 2350.0L1164.6 2330.8L1167.6 2322.3L1175.6 2294.1L1180.6 2273.8L1192.6 2208.5L1195.6 2199.9L1197.6 2197.7L1199.6 2200.8L1202.6 2214.2L1208.6 2289.5L1212.6 2326.5L1224.6 2388.7L1225.6 2392.6L1226.6 2395.0L1227.6 2395.7L1229.6 2395.2L1232.6 2393.1L1234.6 2388.9L1238.6 2377.1L1239.6 2376.1L1241.6 2376.1L1245.6 2377.8L1248.6 2380.4L1261.6 2403.4L1263.6 2405.4L1265.6 2405.5L1268.6 2402.9L1274.6 2393.3L1283.6 2372.0L1287.6 2366.9L1289.6 2366.0L1292.6 2367.8L1296.6 2373.4L1302.6 2388.0L1303.6 2389.7L1305.6 2391.3L1311.6 2393.1L1315.6 2392.9L1317.6 2390.9L1323.6 2381.7L1326.6 2379.8L1330.6 2378.5L1332.6 2378.8L1333.6 2379.6L1339.6 2389.0L1341.6 2390.6L1342.6 2390.6L1345.6 2386.9L1349.6 2378.3L1356.6 2359.4L1362.6 2350.7L1364.6 2349.1L1366.6 2348.4L1369.6 2348.9L1372.6 2350.3L1379.6 2355.9L1384.6 2363.4L1391.6 2378.3L1395.6 2383.7L1398.6 2386.1L1400.6 2386.2L1405.6 2383.7L1408.6 2383.4L1425.6 2387.9L1435.6 2388.1L1451.6 2385.6L1459.6 2383.3L1462.6 2381.6L1465.6 2378.6L1469.6 2372.6L1476.6 2356.7L1480.6 2343.5L1483.6 2323.6L1488.6 2276.9L1498.6 2162.1L1500.6 2134.9L1506.6 2021.2L1508.6 1998.9L1509.6 1998.5L1514.6 2057.5L1526.6 2157.2L1538.6 2276.5L1541.6 2312.0L1543.6 2325.6L1546.6 2331.0L1548.6 2332.3L1552.6 2333.6L1554.6 2336.3L1556.6 2344.6L1561.6 2373.2L1566.6 2393.3L1569.6 2400.2L1574.6 2404.6L1579.6 2407.5L1583.6 2408.8L1588.6 2409.0L1593.6 2408.0L1614.6 2399.0L1633.2 2387.7L1633.2 2417.9Z" stroke="none"/>
<path d="M282.6 2415.4L282.6 2389.7L286.6 2385.4L293.6 2376.1L298.6 2373.2L303.6 2372.1L305.6 2373.4L310.6 2382.5L312.6 2383.7L320.6 2386.2L325.6 2389.0L328.6 2391.9L332.6 2398.1L334.6 2399.8L336.6 2399.3L342.6 2394.1L345.6 2394.4L352.6 2396.8L354.6 2396.7L356.6 2394.8L361.6 2386.5L365.6 2381.9L369.6 2378.2L374.6 2375.6L375.6 2375.9L376.6 2377.6L380.6 2392.6L383.6 2400.2L386.6 2406.0L388.6 2407.5L390.6 2406.2L396.6 2394.6L399.6 2390.0L401.6 2388.2L404.6 2388.8L409.6 2392.6L412.6 2393.9L415.6 2393.2L420.6 2390.1L423.6 2389.0L426.6 2389.8L432.6 2393.6L437.6 2393.4L441.6 2391.5L444.6 2389.2L446.6 2384.9L454.6 2346.7L456.6 2339.0L457.6 2336.3L458.6 2335.3L460.6 2337.4L464.6 2347.7L470.6 2371.9L476.6 2391.1L482.6 2401.3L484.6 2403.0L486.6 2403.1L489.6 2401.1L492.6 2397.0L499.6 2382.0L511.6 2320.6L513.6 2313.5L514.6 2311.9L515.6 2311.4L518.6 2312.8L523.6 2317.1L530.6 2325.0L534.6 2331.5L540.6 2346.2L544.6 2352.3L547.6 2354.2L557.6 2354.2L559.6 2355.0L562.6 2359.1L567.6 2368.6L574.6 2378.6L578.6 2382.9L582.6 2385.2L601.6 2393.7L625.6 2393.5L638.6 2394.9L641.6 2394.4L644.6 2393.0L655.6 2385.9L660.6 2381.4L663.6 2374.2L665.6 2362.4L667.6 2338.9L669.6 2297.2L672.6 2190.3L677.6 1951.6L679.6 1896.7L680.6 1890.4L681.6 1899.8L683.6 1959.5L689.6 2239.5L691.6 2302.4L693.6 2342.0L695.6 2364.0L698.6 2378.1L707.6 2395.8L710.6 2399.6L714.6 2402.3L718.6 2403.5L720.6 2401.7L726.6 2386.6L728.6 2383.3L729.6 2382.8L731.6 2383.7L736.6 2389.5L742.6 2394.5L748.6 2397.6L754.6 2397.5L762.6 2395.9L766.6 2393.7L768.6 2391.0L770.6 2384.3L773.6 2367.2L779.6 2289.7L781.6 2273.8L782.6 2275.2L786.6 2297.4L789.6 2301.5L795.6 2305.5L798.6 2310.6L808.6 2354.8L811.6 2362.1L815.6 2367.9L822.6 2373.7L838.6 2382.9L846.6 2386.6L856.6 2389.4L866.6 2391.2L872.6 2390.9L876.6 2388.5L879.6 2383.4L882.6 2373.7L885.6 2357.8L894.6 2287.2L901.6 2248.4L903.6 2230.0L905.6 2199.7L907.6 2153.9L914.6 1931.4L916.6 1900.8L917.6 1900.6L918.6 1913.8L920.6 1975.9L927.6 2273.6L929.6 2322.3L931.6 2352.0L933.6 2368.2L935.6 2376.3L943.6 2391.0L946.6 2394.7L948.6 2394.5L954.6 2385.8L956.6 2384.2L957.6 2384.5L959.6 2388.3L964.6 2405.4L966.6 2409.1L967.6 2409.1L968.6 2407.9L970.6 2402.1L982.6 2349.6L987.6 2333.8L988.6 2331.8L989.6 2331.3L991.6 2335.3L995.6 2352.7L1000.6 2369.9L1003.6 2378.0L1005.6 2381.5L1010.6 2388.0L1015.6 2392.7L1020.6 2396.1L1029.6 2400.2L1034.6 2404.5L1036.6 2405.5L1038.6 2405.0L1040.6 2402.7L1045.6 2391.2L1047.6 2382.7L1050.6 2359.9L1053.6 2343.4L1055.6 2335.8L1056.6 2333.9L1057.6 2333.5L1059.6 2335.4L1063.6 2343.3L1071.6 2368.1L1076.6 2376.4L1080.6 2380.3L1082.6 2380.5L1084.6 2378.3L1091.6 2363.3L1099.6 2351.6L1103.6 2348.5L1105.6 2348.5L1107.6 2349.7L1116.6 2360.9L1118.6 2362.7L1121.6 2364.1L1130.6 2367.1L1138.6 2368.3L1142.6 2367.5L1145.6 2365.2L1150.6 2358.8L1155.6 2350.0L1164.6 2330.8L1167.6 2322.3L1175.6 2294.1L1180.6 2273.8L1192.6 2208.5L1195.6 2199.9L1197.6 2197.7L1199.6 2200.8L1202.6 2214.2L1208.6 2289.5L1212.6 2326.5L1224.6 2388.7L1225.6 2392.6L1226.6 2395.0L1227.6 2395.7L1229.6 2395.2L1232.6 2393.1L1234.6 2388.9L1238.6 2377.1L1239.6 2376.1L1241.6 2376.1L1245.6 2377.8L1248.6 2380.4L1261.6 2403.4L1263.6 2405.4L1265.6 2405.5L1268.6 2402.9L1274.6 2393.3L1283.6 2372.0L1287.6 2366.9L1289.6 2366.0L1292.6 2367.8L1296.6 2373.4L1302.6 2388.0L1303.6 2389.7L1305.6 2391.3L1311.6 2393.1L1315.6 2392.9L1317.6 2390.9L1323.6 2381.7L1326.6 2379.8L1330.6 2378.5L1332.6 2378.8L1333.6 2379.6L1339.6 2389.0L1341.6 2390.6L1342.6 2390.6L1345.6 2386.9L1349.6 2378.3L1356.6 2359.4L1362.6 2350.7L1364.6 2349.1L1366.6 2348.4L1369.6 2348.9L1372.6 2350.3L1379.6 2355.9L1384.6 2363.4L1391.6 2378.3L1395.6 2383.7L1398.6 2386.1L1400.6 2386.2L1405.6 2383.7L1408.6 2383.4L1425.6 2387.9L1435.6 2388.1L1451.6 2385.6L1459.6 2383.3L1462.6 2381.6L1465.6 2378.6L1469.6 2372.6L1476.6 2356.7L1480.6 2343.5L1483.6 2323.6L1488.6 2276.9L1498.6 2162.1L1500.6 2134.9L1506.6 2021.2L1508.6 1998.9L1509.6 1998.5L1514.6 2057.5L1526.6 2157.2L1538.6 2276.5L1541.6 2312.0L1543.6 2325.6L1546.6 2331.0L1548.6 2332.3L1552.6 2333.6L1554.6 2336.3L1556.6 2344.6L1561.6 2373.2L1566.6 2393.3L1569.6 2400.2L1574.6 2404.6L1579.6 2407.5L1583.6 2408.8L1588.6 2409.0L1593.6 2408.0L1614.6 2399.0L1633.2 2387.7L1633.2 2417.9" fill="none" stroke="#00ff00"/>
<path d="M282.6 2415.4L282.6 2389.7M1633.2 2417.9L1633.2 2387.7" fill="none" stroke="#00ff00" stroke-width="8.7"/>
<path d="M239.4 2465.9L239.4 2407.1L245.4 2432.8L247.4 2438.2L250.4 2443.5L252.4 2445.1L260.4 2447.3L267.4 2455.7L269.4 2455.5L276.4 2450.1L278.4 2450.7L282.4 2454.9L284.4 2455.7L285.4 2455.0L287.4 2450.9L290.4 2439.5L294.4 2405.3L297.4 2387.2L300.4 2377.2L302.4 2373.3L303.4 2372.1L304.4 2372.0L305.4 2373.8L307.4 2383.3L312.4 2421.8L315.4 2428.5L317.4 2429.9L318.4 2427.9L322.4 2404.1L324.4 2399.4L326.4 2398.2L328.4 2399.7L330.4 2403.6L337.4 2445.6L338.4 2448.4L340.4 2451.3L342.4 2452.7L344.4 2452.0L350.4 2439.1L354.4 2432.4L357.4 2428.6L359.4 2427.9L360.4 2428.4L362.4 2431.6L372.4 2454.4L375.4 2459.0L377.4 2459.7L379.4 2458.3L385.4 2450.6L395.4 2444.3L399.4 2439.6L404.4 2427.4L409.4 2401.1L412.4 2395.1L414.4 2394.2L417.4 2398.1L419.4 2404.3L423.4 2436.0L425.4 2445.1L428.4 2453.3L430.4 2454.9L433.4 2454.8L439.4 2454.0L446.4 2452.1L449.4 2450.2L451.4 2447.7L454.4 2441.3L455.4 2437.0L460.4 2387.3L468.4 2332.1L471.4 2318.6L473.4 2313.7L475.4 2311.6L476.4 2312.4L477.4 2314.7L480.4 2327.5L487.4 2370.7L488.4 2372.8L489.4 2373.1L494.4 2371.9L495.4 2372.2L496.4 2373.5L506.4 2409.9L508.4 2415.8L510.4 2419.3L512.4 2419.8L516.4 2417.7L520.4 2412.8L523.4 2407.2L525.4 2397.1L530.4 2359.3L532.4 2348.9L534.4 2343.8L535.4 2344.8L536.4 2348.3L544.4 2393.8L546.4 2397.8L551.4 2400.9L553.4 2403.3L564.4 2431.6L568.4 2439.1L571.4 2441.1L578.4 2442.9L592.4 2444.4L599.4 2444.5L603.4 2442.4L609.4 2436.3L615.4 2431.8L617.4 2429.7L620.4 2422.6L622.4 2411.2L624.4 2388.1L626.4 2345.8L629.4 2234.0L634.4 1976.5L636.4 1916.5L637.4 1909.6L638.4 1919.9L639.4 1946.0L645.4 2243.3L647.4 2321.9L649.4 2373.9L651.4 2403.7L654.4 2423.3L656.4 2428.1L666.4 2443.7L667.4 2444.1L668.4 2443.1L670.4 2435.4L677.4 2387.7L679.4 2378.3L680.4 2378.7L681.4 2383.0L687.4 2423.9L688.4 2428.6L690.4 2433.2L693.4 2435.9L696.4 2437.3L710.4 2437.6L714.4 2435.1L719.4 2428.0L721.4 2422.2L724.4 2405.8L735.4 2319.4L738.4 2302.9L740.4 2297.7L741.4 2298.8L743.4 2308.2L749.4 2351.4L755.4 2371.3L764.4 2421.8L768.4 2436.2L769.4 2437.4L770.4 2436.8L775.4 2420.8L776.4 2418.8L777.4 2418.5L781.4 2429.2L784.4 2433.6L786.4 2435.0L788.4 2435.1L795.4 2432.9L798.4 2432.8L810.4 2437.6L820.4 2440.5L826.4 2441.3L829.4 2440.9L832.4 2439.2L834.4 2436.9L836.4 2433.1L839.4 2423.4L842.4 2407.4L851.4 2334.9L858.4 2293.9L860.4 2274.6L862.4 2242.8L864.4 2194.9L871.4 1962.4L873.4 1930.3L874.4 1930.1L875.4 1943.7L877.4 2008.5L883.4 2284.7L885.4 2346.9L887.4 2387.1L889.4 2410.2L892.4 2425.8L894.4 2429.9L897.4 2434.1L905.4 2451.3L908.4 2456.1L910.4 2456.9L914.4 2456.5L918.4 2454.9L921.4 2452.9L926.4 2445.0L931.4 2431.0L934.4 2413.1L939.4 2342.2L940.4 2332.6L941.4 2331.4L945.4 2380.7L949.4 2416.8L954.4 2448.9L956.4 2456.6L957.4 2457.7L960.4 2456.6L964.4 2453.1L967.4 2449.6L970.4 2444.7L974.4 2435.9L978.4 2418.9L980.4 2413.7L981.4 2414.0L983.4 2418.9L988.4 2439.5L990.4 2444.9L994.4 2452.3L995.4 2452.9L997.4 2452.0L1000.4 2446.7L1004.4 2436.1L1011.4 2405.1L1013.4 2401.3L1016.4 2398.5L1017.4 2398.4L1019.4 2400.3L1024.4 2410.4L1026.4 2412.8L1029.4 2413.0L1038.4 2410.8L1040.4 2411.7L1045.4 2425.7L1047.4 2428.1L1049.4 2427.8L1052.4 2425.9L1059.4 2418.4L1065.4 2404.0L1066.4 2402.7L1067.4 2402.5L1069.4 2405.8L1074.4 2422.6L1080.4 2437.4L1087.4 2450.7L1089.4 2453.8L1091.4 2455.5L1097.4 2455.2L1106.4 2452.7L1111.4 2450.4L1116.4 2446.6L1120.4 2442.1L1122.4 2437.7L1125.4 2427.7L1128.4 2413.5L1134.4 2360.7L1144.4 2261.0L1146.4 2250.0L1149.4 2239.1L1152.4 2232.5L1154.4 2231.6L1156.4 2233.6L1159.4 2241.5L1161.4 2250.1L1162.4 2258.3L1168.4 2379.8L1172.4 2423.7L1174.4 2437.2L1176.4 2446.1L1179.4 2453.0L1182.4 2457.2L1184.4 2458.0L1185.4 2456.9L1187.4 2449.1L1192.4 2422.5L1197.4 2407.5L1199.4 2403.4L1201.4 2401.2L1202.4 2401.2L1203.4 2402.1L1204.4 2403.9L1211.4 2427.9L1213.4 2432.3L1214.4 2433.1L1216.4 2432.7L1220.4 2427.9L1223.4 2421.5L1225.4 2412.8L1229.4 2375.1L1232.4 2366.7L1234.4 2364.0L1235.4 2363.6L1237.4 2366.5L1241.4 2381.1L1245.4 2390.7L1249.4 2398.0L1255.4 2405.4L1257.4 2409.5L1264.4 2447.4L1267.4 2455.6L1269.4 2457.9L1270.4 2456.7L1271.4 2453.4L1275.4 2430.1L1277.4 2423.0L1282.4 2415.5L1286.4 2411.9L1290.4 2411.0L1296.4 2413.2L1297.4 2413.0L1298.4 2411.7L1300.4 2405.8L1310.4 2365.1L1313.4 2359.0L1316.4 2356.1L1317.4 2356.3L1318.4 2357.7L1319.4 2360.4L1339.4 2443.0L1341.4 2447.6L1343.4 2448.4L1345.4 2447.9L1346.4 2445.6L1347.4 2439.9L1351.4 2400.5L1356.4 2359.4L1363.4 2281.6L1366.4 2258.9L1368.4 2252.2L1369.4 2252.9L1370.4 2256.1L1373.4 2277.1L1375.4 2303.0L1378.4 2359.3L1380.4 2383.4L1383.4 2406.2L1386.4 2419.9L1388.4 2425.0L1392.4 2432.2L1395.4 2436.1L1398.4 2438.1L1402.4 2438.3L1408.4 2437.3L1419.4 2433.2L1422.4 2428.7L1426.4 2413.9L1431.4 2386.6L1436.4 2353.3L1443.4 2286.3L1450.4 2237.0L1462.4 2086.6L1465.4 2056.5L1466.4 2049.8L1467.4 2047.6L1469.4 2058.3L1477.4 2124.7L1489.4 2234.7L1492.4 2267.8L1495.4 2316.3L1497.4 2337.5L1499.4 2342.6L1505.4 2347.7L1508.4 2351.6L1511.4 2357.7L1514.4 2366.7L1517.4 2383.8L1521.4 2424.4L1525.4 2445.2L1526.4 2447.8L1529.4 2451.8L1532.4 2454.4L1535.4 2456.0L1539.4 2456.1L1548.4 2453.4L1569.4 2456.3L1572.4 2454.5L1579.4 2445.6L1590.0 2441.5L1590.0 2468.4Z" stroke="none"/>
<path d="M239.4 2465.9L239.4 2407.1L245.4 2432.8L247.4 2438.2L250.4 2443.5L252.4 2445.1L260.4 2447.3L267.4 2455.7L269.4 2455.5L276.4 2450.1L278.4 2450.7L282.4 2454.9L284.4 2455.7L285.4 2455.0L287.4 2450.9L290.4 2439.5L294.4 2405.3L297.4 2387.2L300.4 2377.2L302.4 2373.3L303.4 2372.1L304.4 2372.0L305.4 2373.8L307.4 2383.3L312.4 2421.8L315.4 2428.5L317.4 2429.9L318.4 2427.9L322.4 2404.1L324.4 2399.4L326.4 2398.2L328.4 2399.7L330.4 2403.6L337.4 2445.6L338.4 2448.4L340.4 2451.3L342.4 2452.7L344.4 2452.0L350.4 2439.1L354.4 2432.4L357.4 2428.6L359.4 2427.9L360.4 2428.4L362.4 2431.6L372.4 2454.4L375.4 2459.0L377.4 2459.7L379.4 2458.3L385.4 2450.6L395.4 2444.3L399.4 2439.6L404.4 2427.4L409.4 2401.1L412.4 2395.1L414.4 2394.2L417.4 2398.1L419.4 2404.3L423.4 2436.0L425.4 2445.1L428.4 2453.3L430.4 2454.9L433.4 2454.8L439.4 2454.0L446.4 2452.1L449.4 2450.2L451.4 2447.7L454.4 2441.3L455.4 2437.0L460.4 2387.3L468.4 2332.1L471.4 2318.6L473.4 2313.7L475.4 2311.6L476.4 2312.4L477.4 2314.7L480.4 2327.5L487.4 2370.7L488.4 2372.8L489.4 2373.1L494.4 2371.9L495.4 2372.2L496.4 2373.5L506.4 2409.9L508.4 2415.8L510.4 2419.3L512.4 2419.8L516.4 2417.7L520.4 2412.8L523.4 2407.2L525.4 2397.1L530.4 2359.3L532.4 2348.9L534.4 2343.8L535.4 2344.8L536.4 2348.3L544.4 2393.8L546.4 2397.8L551.4 2400.9L553.4 2403.3L564.4 2431.6L568.4 2439.1L571.4 2441.1L578.4 2442.9L592.4 2444.4L599.4 2444.5L603.4 2442.4L609.4 2436.3L615.4 2431.8L617.4 2429.7L620.4 2422.6L622.4 2411.2L624.4 2388.1L626.4 2345.8L629.4 2234.0L634.4 1976.5L636.4 1916.5L637.4 1909.6L638.4 1919.9L639.4 1946.0L645.4 2243.3L647.4 2321.9L649.4 2373.9L651.4 2403.7L654.4 2423.3L656.4 2428.1L666.4 2443.7L667.4 2444.1L668.4 2443.1L670.4 2435.4L677.4 2387.7L679.4 2378.3L680.4 2378.7L681.4 2383.0L687.4 2423.9L688.4 2428.6L690.4 2433.2L693.4 2435.9L696.4 2437.3L710.4 2437.6L714.4 2435.1L719.4 2428.0L721.4 2422.2L724.4 2405.8L735.4 2319.4L738.4 2302.9L740.4 2297.7L741.4 2298.8L743.4 2308.2L749.4 2351.4L755.4 2371.3L764.4 2421.8L768.4 2436.2L769.4 2437.4L770.4 2436.8L775.4 2420.8L776.4 2418.8L777.4 2418.5L781.4 2429.2L784.4 2433.6L786.4 2435.0L788.4 2435.1L795.4 2432.9L798.4 2432.8L810.4 2437.6L820.4 2440.5L826.4 2441.3L829.4 2440.9L832.4 2439.2L834.4 2436.9L836.4 2433.1L839.4 2423.4L842.4 2407.4L851.4 2334.9L858.4 2293.9L860.4 2274.6L862.4 2242.8L864.4 2194.9L871.4 1962.4L873.4 1930.3L874.4 1930.1L875.4 1943.7L877.4 2008.5L883.4 2284.7L885.4 2346.9L887.4 2387.1L889.4 2410.2L892.4 2425.8L894.4 2429.9L897.4 2434.1L905.4 2451.3L908.4 2456.1L910.4 2456.9L914.4 2456.5L918.4 2454.9L921.4 2452.9L926.4 2445.0L931.4 2431.0L934.4 2413.1L939.4 2342.2L940.4 2332.6L941.4 2331.4L945.4 2380.7L949.4 2416.8L954.4 2448.9L956.4 2456.6L957.4 2457.7L960.4 2456.6L964.4 2453.1L967.4 2449.6L970.4 2444.7L974.4 2435.9L978.4 2418.9L980.4 2413.7L981.4 2414.0L983.4 2418.9L988.4 2439.5L990.4 2444.9L994.4 2452.3L995.4 2452.9L997.4 2452.0L1000.4 2446.7L1004.4 2436.1L1011.4 2405.1L1013.4 2401.3L1016.4 2398.5L1017.4 2398.4L1019.4 2400.3L1024.4 2410.4L1026.4 2412.8L1029.4 2413.0L1038.4 2410.8L1040.4 2411.7L1045.4 2425.7L1047.4 2428.1L1049.4 2427.8L1052.4 2425.9L1059.4 2418.4L1065.4 2404.0L1066.4 2402.7L1067.4 2402.5L1069.4 2405.8L1074.4 2422.6L1080.4 2437.4L1087.4 2450.7L1089.4 2453.8L1091.4 2455.5L1097.4 2455.2L1106.4 2452.7L1111.4 2450.4L1116.4 2446.6L1120.4 2442.1L1122.4 2437.7L1125.4 2427.7L1128.4 2413.5L1134.4 2360.7L1144.4 2261.0L1146.4 2250.0L1149.4 2239.1L1152.4 2232.5L1154.4 2231.6L1156.4 2233.6L1159.4 2241.5L1161.4 2250.1L1162.4 2258.3L1168.4 2379.8L1172.4 2423.7L1174.4 2437.2L1176.4 2446.1L1179.4 2453.0L1182.4 2457.2L1184.4 2458.0L1185.4 2456.9L1187.4 2449.1L1192.4 2422.5L1197.4 2407.5L1199.4 2403.4L1201.4 2401.2L1202.4 2401.2L1203.4 2402.1L1204.4 2403.9L1211.4 2427.9L1213.4 2432.3L1214.4 2433.1L1216.4 2432.7L1220.4 2427.9L1223.4 2421.5L1225.4 2412.8L1229.4 2375.1L1232.4 2366.7L1234.4 2364.0L1235.4 2363.6L1237.4 2366.5L1241.4 2381.1L1245.4 2390.7L1249.4 2398.0L1255.4 2405.4L1257.4 2409.5L1264.4 2447.4L1267.4 2455.6L1269.4 2457.9L1270.4 2456.7L1271.4 2453.4L1275.4 2430.1L1277.4 2423.0L1282.4 2415.5L1286.4 2411.9L1290.4 2411.0L1296.4 2413.2L1297.4 2413.0L1298.4 2411.7L1300.4 2405.8L1310.4 2365.1L1313.4 2359.0L1316.4 2356.1L1317.4 2356.3L1318.4 2357.7L1319.4 2360.4L1339.4 2443.0L1341.4 2447.6L1343.4 2448.4L1345.4 2447.9L1346.4 2445.6L1347.4 2439.9L1351.4 2400.5L1356.4 2359.4L1363.4 2281.6L1366.4 2258.9L1368.4 2252.2L1369.4 2252.9L1370.4 2256.1L1373.4 2277.1L1375.4 2303.0L1378.4 2359.3L1380.4 2383.4L1383.4 2406.2L1386.4 2419.9L1388.4 2425.0L1392.4 2432.2L1395.4 2436.1L1398.4 2438.1L1402.4 2438.3L1408.4 2437.3L1419.4 2433.2L1422.4 2428.7L1426.4 2413.9L1431.4 2386.6L1436.4 2353.3L1443.4 2286.3L1450.4 2237.0L1462.4 2086.6L1465.4 2056.5L1466.4 2049.8L1467.4 2047.6L1469.4 2058.3L1477.4 2124.7L1489.4 2234.7L1492.4 2267.8L1495.4 2316.3L1497.4 2337.5L1499.4 2342.6L1505.4 2347.7L1508.4 2351.6L1511.4 2357.7L1514.4 2366.7L1517.4 2383.8L1521.4 2424.4L1525.4 2445.2L1526.4 2447.8L1529.4 2451.8L1532.4 2454.4L1535.4 2456.0L1539.4 2456.1L1548.4 2453.4L1569.4 2456.3L1572.4 2454.5L1579.4 2445.6L1590.0 2441.5L1590.0 2468.4" fill="none" stroke="#00ff00"/>
<path d="M239.4 2465.9L239.4 2407.1M1590.0 2468.4L1590.0 2441.5" fill="none" stroke="#00ff00" stroke-width="8.7"/>
<path d="M196.2 2516.5L196.2 2488.8L203.2 2497.8L208.2 2501.1L212.2 2502.7L216.2 2502.6L224.2 2498.7L227.2 2498.0L229.2 2498.4L235.2 2502.1L238.2 2502.9L241.2 2501.9L246.2 2498.8L249.2 2498.0L252.2 2499.2L259.2 2504.8L263.2 2505.9L269.2 2504.2L276.2 2500.0L284.2 2487.2L285.2 2486.3L287.2 2485.8L291.2 2487.0L298.2 2490.7L315.2 2502.7L345.2 2508.1L351.2 2508.4L353.2 2507.1L355.2 2504.5L359.2 2496.5L364.2 2473.4L366.2 2466.8L369.2 2464.3L374.2 2463.0L375.2 2463.5L376.2 2465.2L377.2 2468.2L382.2 2488.2L384.2 2491.6L387.2 2495.0L391.2 2498.2L395.2 2500.0L405.2 2502.1L414.2 2502.9L415.2 2502.4L416.2 2500.2L417.2 2496.0L427.2 2427.8L429.2 2417.9L430.2 2415.2L431.2 2414.2L433.2 2415.9L435.2 2420.0L440.2 2433.3L446.2 2453.0L450.2 2460.1L453.2 2463.8L457.2 2467.2L470.2 2473.6L476.2 2478.3L485.2 2490.8L491.2 2503.5L494.2 2507.7L496.2 2508.2L499.2 2507.5L505.2 2503.9L511.2 2498.2L515.2 2490.7L520.2 2475.2L527.2 2430.7L530.2 2422.7L532.2 2419.8L533.2 2419.9L534.2 2421.6L535.2 2425.2L544.2 2476.0L548.2 2485.4L551.2 2490.1L555.2 2494.6L558.2 2496.9L563.2 2499.1L566.2 2499.7L568.2 2499.3L574.2 2493.6L577.2 2487.8L579.2 2478.1L581.2 2457.7L583.2 2419.3L586.2 2314.6L591.2 2064.9L593.2 2005.8L594.2 1999.0L595.2 2009.1L596.2 2034.9L602.2 2323.4L604.2 2397.3L606.2 2444.9L608.2 2471.6L610.2 2484.8L612.2 2490.8L616.2 2498.6L619.2 2502.1L629.2 2503.9L631.2 2503.3L633.2 2500.3L639.2 2486.9L643.2 2482.6L646.2 2480.9L647.2 2481.1L649.2 2483.3L654.2 2493.1L659.2 2497.7L664.2 2501.3L669.2 2504.0L674.2 2505.3L676.2 2505.0L677.2 2503.0L679.2 2494.0L686.2 2452.4L689.2 2442.6L694.2 2432.5L698.2 2426.5L701.2 2423.7L708.2 2419.7L713.2 2414.9L714.2 2414.9L715.2 2415.8L716.2 2417.8L719.2 2430.3L722.2 2467.4L724.2 2479.9L728.2 2490.9L730.2 2494.6L733.2 2498.2L739.2 2501.4L747.2 2504.0L754.2 2505.2L760.2 2505.0L765.2 2502.9L777.2 2494.9L787.2 2490.1L790.2 2487.4L793.2 2482.5L796.2 2473.7L799.2 2459.6L807.2 2405.7L815.2 2363.9L817.2 2346.5L819.2 2317.8L821.2 2274.6L828.2 2064.8L830.2 2035.9L831.2 2035.8L832.2 2048.1L834.2 2106.6L840.2 2356.2L842.2 2412.3L844.2 2448.7L846.2 2469.6L849.2 2483.6L851.2 2487.6L855.2 2493.1L863.2 2502.3L866.2 2504.9L871.2 2505.3L877.2 2503.5L879.2 2501.6L882.2 2496.3L884.2 2491.2L886.2 2483.4L894.2 2437.1L896.2 2431.6L898.2 2428.8L899.2 2429.0L900.2 2430.5L903.2 2440.5L908.2 2470.3L913.2 2491.9L916.2 2498.5L919.2 2502.6L921.2 2504.2L923.2 2504.1L924.2 2502.9L929.2 2491.2L932.2 2486.8L934.2 2485.0L948.2 2484.4L952.2 2483.2L955.2 2481.4L962.2 2465.8L965.2 2461.3L967.2 2460.0L970.2 2461.2L976.2 2468.5L986.2 2485.4L993.2 2499.0L997.2 2505.0L999.2 2507.0L1001.2 2506.9L1003.2 2505.0L1010.2 2494.6L1012.2 2492.6L1018.2 2492.7L1037.2 2494.8L1048.2 2494.5L1058.2 2492.9L1070.2 2489.9L1078.2 2485.6L1088.2 2477.5L1090.2 2474.3L1092.2 2467.6L1099.2 2425.1L1108.2 2354.0L1112.2 2334.9L1113.2 2332.8L1114.2 2332.8L1116.2 2339.7L1118.2 2353.5L1122.2 2411.1L1124.2 2430.6L1127.2 2451.1L1131.2 2472.8L1135.2 2489.4L1140.2 2503.2L1142.2 2507.3L1144.2 2509.6L1145.2 2509.6L1146.2 2508.6L1147.2 2506.5L1156.2 2473.9L1158.2 2469.4L1159.2 2469.0L1162.2 2472.5L1173.2 2495.2L1178.2 2501.2L1180.2 2501.8L1181.2 2501.1L1183.2 2497.6L1200.2 2455.1L1204.2 2449.5L1207.2 2447.6L1209.2 2449.0L1211.2 2452.9L1215.2 2463.3L1222.2 2485.4L1226.2 2495.2L1229.2 2499.5L1230.2 2499.5L1231.2 2498.2L1232.2 2495.3L1240.2 2463.6L1242.2 2458.9L1243.2 2458.2L1246.2 2459.9L1251.2 2465.4L1256.2 2472.2L1259.2 2473.9L1262.2 2473.2L1265.2 2471.4L1271.2 2467.0L1278.2 2460.6L1280.2 2460.0L1283.2 2460.8L1294.2 2468.1L1312.2 2486.0L1316.2 2488.6L1319.2 2489.8L1336.2 2492.3L1354.2 2494.1L1378.2 2495.0L1382.2 2494.2L1385.2 2491.3L1388.2 2486.4L1394.2 2472.2L1397.2 2460.4L1400.2 2440.8L1407.2 2385.5L1417.2 2279.2L1422.2 2199.0L1424.2 2182.6L1425.2 2178.0L1426.2 2176.9L1427.2 2179.7L1429.2 2193.4L1435.2 2258.4L1441.2 2288.6L1443.2 2302.0L1452.2 2405.9L1454.2 2420.8L1457.2 2432.8L1459.2 2435.5L1465.2 2432.2L1466.2 2432.3L1467.2 2433.5L1472.2 2450.8L1477.2 2473.6L1480.2 2482.6L1487.2 2496.0L1495.2 2507.2L1498.2 2510.1L1500.2 2510.7L1506.2 2510.1L1520.2 2506.2L1533.2 2499.3L1546.8 2489.3L1546.8 2519.0Z" stroke="none"/>
<path d="M196.2 2516.5L196.2 2488.8L203.2 2497.8L208.2 2501.1L212.2 2502.7L216.2 2502.6L224.2 2498.7L227.2 2498.0L229.2 2498.4L235.2 2502.1L238.2 2502.9L241.2 2501.9L246.2 2498.8L249.2 2498.0L252.2 2499.2L259.2 2504.8L263.2 2505.9L269.2 2504.2L276.2 2500.0L284.2 2487.2L285.2 2486.3L287.2 2485.8L291.2 2487.0L298.2 2490.7L315.2 2502.7L345.2 2508.1L351.2 2508.4L353.2 2507.1L355.2 2504.5L359.2 2496.5L364.2 2473.4L366.2 2466.8L369.2 2464.3L374.2 2463.0L375.2 2463.5L376.2 2465.2L377.2 2468.2L382.2 2488.2L384.2 2491.6L387.2 2495.0L391.2 2498.2L395.2 2500.0L405.2 2502.1L414.2 2502.9L415.2 2502.4L416.2 2500.2L417.2 2496.0L427.2 2427.8L429.2 2417.9L430.2 2415.2L431.2 2414.2L433.2 2415.9L435.2 2420.0L440.2 2433.3L446.2 2453.0L450.2 2460.1L453.2 2463.8L457.2 2467.2L470.2 2473.6L476.2 2478.3L485.2 2490.8L491.2 2503.5L494.2 2507.7L496.2 2508.2L499.2 2507.5L505.2 2503.9L511.2 2498.2L515.2 2490.7L520.2 2475.2L527.2 2430.7L530.2 2422.7L532.2 2419.8L533.2 2419.9L534.2 2421.6L535.2 2425.2L544.2 2476.0L548.2 2485.4L551.2 2490.1L555.2 2494.6L558.2 2496.9L563.2 2499.1L566.2 2499.7L568.2 2499.3L574.2 2493.6L577.2 2487.8L579.2 2478.1L581.2 2457.7L583.2 2419.3L586.2 2314.6L591.2 2064.9L593.2 2005.8L594.2 1999.0L595.2 2009.1L596.2 2034.9L602.2 2323.4L604.2 2397.3L606.2 2444.9L608.2 2471.6L610.2 2484.8L612.2 2490.8L616.2 2498.6L619.2 2502.1L629.2 2503.9L631.2 2503.3L633.2 2500.3L639.2 2486.9L643.2 2482.6L646.2 2480.9L647.2 2481.1L649.2 2483.3L654.2 2493.1L659.2 2497.7L664.2 2501.3L669.2 2504.0L674.2 2505.3L676.2 2505.0L677.2 2503.0L679.2 2494.0L686.2 2452.4L689.2 2442.6L694.2 2432.5L698.2 2426.5L701.2 2423.7L708.2 2419.7L713.2 2414.9L714.2 2414.9L715.2 2415.8L716.2 2417.8L719.2 2430.3L722.2 2467.4L724.2 2479.9L728.2 2490.9L730.2 2494.6L733.2 2498.2L739.2 2501.4L747.2 2504.0L754.2 2505.2L760.2 2505.0L765.2 2502.9L777.2 2494.9L787.2 2490.1L790.2 2487.4L793.2 2482.5L796.2 2473.7L799.2 2459.6L807.2 2405.7L815.2 2363.9L817.2 2346.5L819.2 2317.8L821.2 2274.6L828.2 2064.8L830.2 2035.9L831.2 2035.8L832.2 2048.1L834.2 2106.6L840.2 2356.2L842.2 2412.3L844.2 2448.7L846.2 2469.6L849.2 2483.6L851.2 2487.6L855.2 2493.1L863.2 2502.3L866.2 2504.9L871.2 2505.3L877.2 2503.5L879.2 2501.6L882.2 2496.3L884.2 2491.2L886.2 2483.4L894.2 2437.1L896.2 2431.6L898.2 2428.8L899.2 2429.0L900.2 2430.5L903.2 2440.5L908.2 2470.3L913.2 2491.9L916.2 2498.5L919.2 2502.6L921.2 2504.2L923.2 2504.1L924.2 2502.9L929.2 2491.2L932.2 2486.8L934.2 2485.0L948.2 2484.4L952.2 2483.2L955.2 2481.4L962.2 2465.8L965.2 2461.3L967.2 2460.0L970.2 2461.2L976.2 2468.5L986.2 2485.4L993.2 2499.0L997.2 2505.0L999.2 2507.0L1001.2 2506.9L1003.2 2505.0L1010.2 2494.6L1012.2 2492.6L1018.2 2492.7L1037.2 2494.8L1048.2 2494.5L1058.2 2492.9L1070.2 2489.9L1078.2 2485.6L1088.2 2477.5L1090.2 2474.3L1092.2 2467.6L1099.2 2425.1L1108.2 2354.0L1112.2 2334.9L1113.2 2332.8L1114.2 2332.8L1116.2 2339.7L1118.2 2353.5L1122.2 2411.1L1124.2 2430.6L1127.2 2451.1L1131.2 2472.8L1135.2 2489.4L1140.2 2503.2L1142.2 2507.3L1144.2 2509.6L1145.2 2509.6L1146.2 2508.6L1147.2 2506.5L1156.2 2473.9L1158.2 2469.4L1159.2 2469.0L1162.2 2472.5L1173.2 2495.2L1178.2 2501.2L1180.2 2501.8L1181.2 2501.1L1183.2 2497.6L1200.2 2455.1L1204.2 2449.5L1207.2 2447.6L1209.2 2449.0L1211.2 2452.9L1215.2 2463.3L1222.2 2485.4L1226.2 2495.2L1229.2 2499.5L1230.2 2499.5L1231.2 2498.2L1232.2 2495.3L1240.2 2463.6L1242.2 2458.9L1243.2 2458.2L1246.2 2459.9L1251.2 2465.4L1256.2 2472.2L1259.2 2473.9L1262.2 2473.2L1265.2 2471.4L1271.2 2467.0L1278.2 2460.6L1280.2 2460.0L1283.2 2460.8L1294.2 2468.1L1312.2 2486.0L1316.2 2488.6L1319.2 2489.8L1336.2 2492.3L1354.2 2494.1L1378.2 2495.0L1382.2 2494.2L1385.2 2491.3L1388.2 2486.4L1394.2 2472.2L1397.2 2460.4L1400.2 2440.8L1407.2 2385.5L1417.2 2279.2L1422.2 2199.0L1424.2 2182.6L1425.2 2178.0L1426.2 2176.9L1427.2 2179.7L1429.2 2193.4L1435.2 2258.4L1441.2 2288.6L1443.2 2302.0L1452.2 2405.9L1454.2 2420.8L1457.2 2432.8L1459.2 2435.5L1465.2 2432.2L1466.2 2432.3L1467.2 2433.5L1472.2 2450.8L1477.2 2473.6L1480.2 2482.6L1487.2 2496.0L1495.2 2507.2L1498.2 2510.1L1500.2 2510.7L1506.2 2510.1L1520.2 2506.2L1533.2 2499.3L1546.8 2489.3L1546.8 2519.0" fill="none" stroke="#00ffff"/>
<path d="M196.2 2516.5L196.2 2488.8M1546.8 2519.0L1546.8 2489.3" fill="none" stroke="#00ffff" stroke-width="8.7"/>
<path d="M153.0 2567.0L153.0 2518.4L164.0 2534.9L174.0 2547.6L177.0 2550.5L179.0 2551.3L181.0 2551.0L189.0 2546.3L197.0 2544.7L199.0 2546.2L202.0 2554.5L203.0 2556.1L204.0 2556.4L207.0 2552.0L214.0 2535.4L221.0 2526.1L226.0 2522.3L228.0 2522.1L230.0 2523.5L237.0 2532.1L245.0 2532.9L247.0 2533.9L254.0 2550.8L260.0 2557.2L263.0 2559.0L265.0 2559.4L270.0 2558.0L276.0 2553.6L278.0 2550.5L285.0 2535.0L290.0 2527.9L293.0 2526.1L294.0 2526.7L296.0 2530.2L305.0 2555.1L307.0 2558.7L308.0 2559.2L309.0 2558.5L311.0 2554.5L314.0 2543.7L317.0 2528.5L322.0 2491.7L325.0 2479.0L327.0 2474.0L328.0 2473.4L330.0 2477.1L339.0 2516.1L346.0 2540.3L352.0 2551.7L355.0 2554.6L357.0 2554.7L360.0 2552.7L363.0 2548.7L370.0 2533.7L382.0 2472.2L384.0 2465.2L385.0 2463.5L386.0 2463.0L389.0 2464.4L394.0 2468.8L401.0 2476.7L405.0 2483.1L411.0 2497.8L415.0 2504.0L418.0 2505.8L428.0 2505.8L430.0 2506.6L433.0 2510.7L438.0 2520.2L445.0 2530.2L449.0 2534.5L453.0 2536.9L472.0 2545.3L496.0 2545.2L509.0 2546.5L512.0 2546.1L515.0 2544.6L527.0 2536.9L532.0 2532.7L535.0 2525.5L537.0 2512.8L540.0 2466.3L543.0 2365.5L548.0 2116.2L550.0 2056.3L551.0 2049.4L552.0 2059.7L553.0 2085.9L559.0 2374.1L561.0 2445.4L563.0 2490.2L565.0 2514.5L566.0 2521.5L568.0 2529.4L572.0 2535.4L576.0 2544.1L579.0 2549.0L581.0 2551.3L585.0 2553.9L589.0 2555.1L591.0 2553.4L597.0 2538.2L599.0 2535.0L600.0 2534.5L602.0 2535.4L607.0 2541.2L613.0 2546.1L619.0 2549.2L625.0 2549.1L633.0 2547.6L637.0 2545.4L639.0 2542.6L641.0 2536.0L644.0 2518.8L650.0 2441.3L652.0 2425.4L653.0 2426.9L657.0 2449.0L660.0 2453.1L666.0 2457.2L669.0 2462.3L679.0 2506.4L682.0 2513.8L686.0 2519.5L693.0 2525.3L708.0 2534.1L716.0 2537.9L725.0 2540.6L735.0 2542.8L742.0 2543.1L745.0 2542.2L747.0 2540.8L750.0 2536.4L753.0 2528.0L756.0 2514.3L765.0 2454.0L772.0 2421.4L774.0 2406.0L776.0 2380.6L778.0 2342.2L785.0 2155.3L787.0 2129.6L788.0 2129.5L789.0 2140.5L791.0 2192.8L798.0 2443.4L800.0 2484.4L802.0 2509.3L804.0 2523.0L806.0 2529.8L815.0 2544.9L817.0 2546.9L819.0 2546.6L825.0 2537.7L827.0 2536.1L828.0 2536.4L830.0 2540.2L835.0 2557.2L837.0 2560.9L838.0 2560.9L839.0 2559.7L841.0 2553.9L853.0 2501.4L858.0 2485.5L859.0 2483.6L860.0 2483.0L862.0 2487.0L866.0 2504.4L871.0 2521.6L874.0 2529.7L876.0 2533.2L881.0 2539.7L886.0 2544.4L891.0 2547.8L900.0 2551.8L905.0 2556.1L907.0 2557.1L909.0 2556.6L911.0 2554.4L916.0 2542.8L918.0 2534.3L921.0 2511.5L924.0 2495.1L926.0 2487.4L927.0 2485.6L928.0 2485.2L930.0 2487.1L934.0 2494.9L942.0 2519.8L947.0 2528.1L951.0 2531.9L953.0 2532.1L955.0 2530.0L962.0 2515.0L970.0 2503.2L974.0 2500.1L976.0 2500.2L978.0 2501.3L987.0 2512.5L989.0 2514.3L992.0 2515.7L1001.0 2518.7L1009.0 2519.9L1013.0 2519.1L1016.0 2516.9L1021.0 2510.5L1026.0 2501.6L1035.0 2482.4L1038.0 2473.9L1046.0 2445.8L1051.0 2425.5L1063.0 2360.2L1066.0 2351.5L1068.0 2349.3L1070.0 2352.4L1073.0 2365.8L1079.0 2441.1L1083.0 2478.1L1095.0 2540.3L1096.0 2544.3L1097.0 2546.6L1098.0 2547.3L1100.0 2546.8L1103.0 2544.8L1105.0 2540.6L1109.0 2528.7L1110.0 2527.7L1112.0 2527.8L1116.0 2529.4L1119.0 2532.0L1132.0 2555.0L1134.0 2557.0L1136.0 2557.2L1139.0 2554.6L1145.0 2544.9L1154.0 2523.6L1158.0 2518.5L1160.0 2517.6L1163.0 2519.4L1167.0 2525.1L1173.0 2539.6L1174.0 2541.3L1176.0 2542.9L1182.0 2544.7L1186.0 2544.5L1188.0 2542.5L1194.0 2533.4L1197.0 2531.4L1201.0 2530.1L1203.0 2530.4L1204.0 2531.3L1210.0 2540.6L1212.0 2542.2L1213.0 2542.2L1216.0 2538.6L1220.0 2529.9L1227.0 2511.0L1233.0 2502.4L1235.0 2500.7L1237.0 2500.0L1240.0 2500.6L1243.0 2502.0L1250.0 2507.5L1255.0 2515.0L1262.0 2529.9L1266.0 2535.3L1269.0 2537.7L1271.0 2537.8L1276.0 2535.3L1279.0 2535.1L1296.0 2539.6L1306.0 2539.8L1322.0 2537.2L1330.0 2535.0L1333.0 2533.3L1336.0 2530.4L1340.0 2524.4L1347.0 2508.7L1351.0 2495.7L1354.0 2475.9L1359.0 2429.7L1369.0 2316.0L1371.0 2289.0L1377.0 2176.3L1379.0 2154.3L1380.0 2153.8L1385.0 2212.4L1397.0 2311.1L1409.0 2429.2L1412.0 2464.3L1414.0 2477.8L1417.0 2483.1L1419.0 2484.4L1423.0 2485.5L1425.0 2488.2L1427.0 2496.5L1432.0 2524.9L1437.0 2545.0L1440.0 2551.9L1446.0 2556.9L1451.0 2559.5L1455.0 2560.5L1460.0 2560.5L1465.0 2559.3L1485.0 2550.6L1503.6 2539.3L1503.6 2569.5Z" stroke="none"/>
<path d="M153.0 2567.0L153.0 2518.4L164.0 2534.9L174.0 2547.6L177.0 2550.5L179.0 2551.3L181.0 2551.0L189.0 2546.3L197.0 2544.7L199.0 2546.2L202.0 2554.5L203.0 2556.1L204.0 2556.4L207.0 2552.0L214.0 2535.4L221.0 2526.1L226.0 2522.3L228.0 2522.1L230.0 2523.5L237.0 2532.1L245.0 2532.9L247.0 2533.9L254.0 2550.8L260.0 2557.2L263.0 2559.0L265.0 2559.4L270.0 2558.0L276.0 2553.6L278.0 2550.5L285.0 2535.0L290.0 2527.9L293.0 2526.1L294.0 2526.7L296.0 2530.2L305.0 2555.1L307.0 2558.7L308.0 2559.2L309.0 2558.5L311.0 2554.5L314.0 2543.7L317.0 2528.5L322.0 2491.7L325.0 2479.0L327.0 2474.0L328.0 2473.4L330.0 2477.1L339.0 2516.1L346.0 2540.3L352.0 2551.7L355.0 2554.6L357.0 2554.7L360.0 2552.7L363.0 2548.7L370.0 2533.7L382.0 2472.2L384.0 2465.2L385.0 2463.5L386.0 2463.0L389.0 2464.4L394.0 2468.8L401.0 2476.7L405.0 2483.1L411.0 2497.8L415.0 2504.0L418.0 2505.8L428.0 2505.8L430.0 2506.6L433.0 2510.7L438.0 2520.2L445.0 2530.2L449.0 2534.5L453.0 2536.9L472.0 2545.3L496.0 2545.2L509.0 2546.5L512.0 2546.1L515.0 2544.6L527.0 2536.9L532.0 2532.7L535.0 2525.5L537.0 2512.8L540.0 2466.3L543.0 2365.5L548.0 2116.2L550.0 2056.3L551.0 2049.4L552.0 2059.7L553.0 2085.9L559.0 2374.1L561.0 2445.4L563.0 2490.2L565.0 2514.5L566.0 2521.5L568.0 2529.4L572.0 2535.4L576.0 2544.1L579.0 2549.0L581.0 2551.3L585.0 2553.9L589.0 2555.1L591.0 2553.4L597.0 2538.2L599.0 2535.0L600.0 2534.5L602.0 2535.4L607.0 2541.2L613.0 2546.1L619.0 2549.2L625.0 2549.1L633.0 2547.6L637.0 2545.4L639.0 2542.6L641.0 2536.0L644.0 2518.8L650.0 2441.3L652.0 2425.4L653.0 2426.9L657.0 2449.0L660.0 2453.1L666.0 2457.2L669.0 2462.3L679.0 2506.4L682.0 2513.8L686.0 2519.5L693.0 2525.3L708.0 2534.1L716.0 2537.9L725.0 2540.6L735.0 2542.8L742.0 2543.1L745.0 2542.2L747.0 2540.8L750.0 2536.4L753.0 2528.0L756.0 2514.3L765.0 2454.0L772.0 2421.4L774.0 2406.0L776.0 2380.6L778.0 2342.2L785.0 2155.3L787.0 2129.6L788.0 2129.5L789.0 2140.5L791.0 2192.8L798.0 2443.4L800.0 2484.4L802.0 2509.3L804.0 2523.0L806.0 2529.8L815.0 2544.9L817.0 2546.9L819.0 2546.6L825.0 2537.7L827.0 2536.1L828.0 2536.4L830.0 2540.2L835.0 2557.2L837.0 2560.9L838.0 2560.9L839.0 2559.7L841.0 2553.9L853.0 2501.4L858.0 2485.5L859.0 2483.6L860.0 2483.0L862.0 2487.0L866.0 2504.4L871.0 2521.6L874.0 2529.7L876.0 2533.2L881.0 2539.7L886.0 2544.4L891.0 2547.8L900.0 2551.8L905.0 2556.1L907.0 2557.1L909.0 2556.6L911.0 2554.4L916.0 2542.8L918.0 2534.3L921.0 2511.5L924.0 2495.1L926.0 2487.4L927.0 2485.6L928.0 2485.2L930.0 2487.1L934.0 2494.9L942.0 2519.8L947.0 2528.1L951.0 2531.9L953.0 2532.1L955.0 2530.0L962.0 2515.0L970.0 2503.2L974.0 2500.1L976.0 2500.2L978.0 2501.3L987.0 2512.5L989.0 2514.3L992.0 2515.7L1001.0 2518.7L1009.0 2519.9L1013.0 2519.1L1016.0 2516.9L1021.0 2510.5L1026.0 2501.6L1035.0 2482.4L1038.0 2473.9L1046.0 2445.8L1051.0 2425.5L1063.0 2360.2L1066.0 2351.5L1068.0 2349.3L1070.0 2352.4L1073.0 2365.8L1079.0 2441.1L1083.0 2478.1L1095.0 2540.3L1096.0 2544.3L1097.0 2546.6L1098.0 2547.3L1100.0 2546.8L1103.0 2544.8L1105.0 2540.6L1109.0 2528.7L1110.0 2527.7L1112.0 2527.8L1116.0 2529.4L1119.0 2532.0L1132.0 2555.0L1134.0 2557.0L1136.0 2557.2L1139.0 2554.6L1145.0 2544.9L1154.0 2523.6L1158.0 2518.5L1160.0 2517.6L1163.0 2519.4L1167.0 2525.1L1173.0 2539.6L1174.0 2541.3L1176.0 2542.9L1182.0 2544.7L1186.0 2544.5L1188.0 2542.5L1194.0 2533.4L1197.0 2531.4L1201.0 2530.1L1203.0 2530.4L1204.0 2531.3L1210.0 2540.6L1212.0 2542.2L1213.0 2542.2L1216.0 2538.6L1220.0 2529.9L1227.0 2511.0L1233.0 2502.4L1235.0 2500.7L1237.0 2500.0L1240.0 2500.6L1243.0 2502.0L1250.0 2507.5L1255.0 2515.0L1262.0 2529.9L1266.0 2535.3L1269.0 2537.7L1271.0 2537.8L1276.0 2535.3L1279.0 2535.1L1296.0 2539.6L1306.0 2539.8L1322.0 2537.2L1330.0 2535.0L1333.0 2533.3L1336.0 2530.4L1340.0 2524.4L1347.0 2508.7L1351.0 2495.7L1354.0 2475.9L1359.0 2429.7L1369.0 2316.0L1371.0 2289.0L1377.0 2176.3L1379.0 2154.3L1380.0 2153.8L1385.0 2212.4L1397.0 2311.1L1409.0 2429.2L1412.0 2464.3L1414.0 2477.8L1417.0 2483.1L1419.0 2484.4L1423.0 2485.5L1425.0 2488.2L1427.0 2496.5L1432.0 2524.9L1437.0 2545.0L1440.0 2551.9L1446.0 2556.9L1451.0 2559.5L1455.0 2560.5L1460.0 2560.5L1465.0 2559.3L1485.0 2550.6L1503.6 2539.3L1503.6 2569.5" fill="none" stroke="#0080ff"/>
<path d="M153.0 2567.0L153.0 2518.4M1503.6 2569.5L1503.6 2539.3" fill="none" stroke="#0080ff" stroke-width="8.7"/>
<path d="M109.8 2617.6L109.8 2567.0L112.8 2577.2L115.8 2583.1L120.8 2589.4L128.8 2597.5L134.8 2607.8L137.8 2610.2L139.8 2609.3L145.8 2602.6L147.8 2601.8L155.8 2601.1L157.8 2599.6L158.8 2597.9L162.8 2585.3L168.8 2554.9L170.8 2549.7L171.8 2549.6L173.8 2553.4L181.8 2578.6L183.8 2582.7L184.8 2583.0L185.8 2581.6L187.8 2574.8L192.8 2551.2L193.8 2550.6L194.8 2551.9L202.8 2573.5L207.8 2594.8L210.8 2600.5L211.8 2600.7L213.8 2599.3L217.8 2594.2L223.8 2588.2L228.8 2586.0L230.8 2586.9L239.8 2595.2L243.8 2597.7L246.8 2597.2L250.8 2593.9L252.8 2593.1L256.8 2595.4L258.8 2595.6L260.8 2593.5L262.8 2590.0L270.8 2571.6L275.8 2556.0L281.8 2530.9L284.8 2526.3L286.8 2525.1L288.8 2526.9L290.8 2531.5L292.8 2538.7L295.8 2554.5L297.8 2560.2L300.8 2566.2L304.8 2571.7L309.8 2576.4L319.8 2582.9L322.8 2583.6L323.8 2582.4L325.8 2573.9L339.8 2477.8L342.8 2467.6L344.8 2463.8L345.8 2463.2L346.8 2464.0L347.8 2466.4L350.8 2479.1L357.8 2522.3L358.8 2524.4L359.8 2524.7L364.8 2523.5L365.8 2523.8L366.8 2525.1L376.8 2561.6L378.8 2567.4L380.8 2570.9L382.8 2571.5L386.8 2569.3L390.8 2564.4L393.8 2558.8L395.8 2548.7L400.8 2510.9L402.8 2500.5L404.8 2495.5L405.8 2496.4L406.8 2499.9L414.8 2545.4L416.8 2549.4L421.8 2552.5L423.8 2554.9L434.8 2583.3L438.8 2590.7L441.8 2592.7L448.8 2594.5L462.8 2596.0L469.8 2596.1L473.8 2594.0L479.8 2587.9L485.8 2583.7L488.8 2580.8L491.8 2573.7L493.8 2561.5L496.8 2515.1L499.8 2410.0L504.8 2139.6L506.8 2073.5L507.8 2065.9L508.8 2077.3L510.8 2149.1L516.8 2460.2L519.8 2539.2L521.8 2563.2L523.8 2574.4L525.8 2579.4L536.8 2595.3L537.8 2595.8L538.8 2594.8L540.8 2587.1L547.8 2539.3L549.8 2529.9L550.8 2530.3L551.8 2534.7L557.8 2575.5L558.8 2580.2L560.8 2584.8L563.8 2587.6L566.8 2589.0L580.8 2589.2L584.8 2586.7L589.8 2579.7L591.8 2573.9L594.8 2557.4L605.8 2471.0L608.8 2454.5L610.8 2449.3L611.8 2450.4L613.8 2459.8L619.8 2503.0L625.8 2523.0L634.8 2573.5L638.8 2587.9L639.8 2589.0L640.8 2588.5L645.8 2572.4L646.8 2570.4L647.8 2570.2L651.8 2580.8L654.8 2585.2L656.8 2586.7L658.8 2586.7L665.8 2584.5L668.8 2584.4L680.8 2589.3L690.8 2592.2L696.8 2593.0L699.8 2592.5L702.8 2590.9L704.8 2588.6L706.8 2584.8L709.8 2575.3L712.8 2559.5L721.8 2487.8L728.8 2447.4L730.8 2428.4L732.8 2397.0L734.8 2349.8L741.8 2120.4L743.8 2088.8L744.8 2088.6L745.8 2102.0L747.8 2165.9L753.8 2438.4L755.8 2499.8L757.8 2539.4L759.8 2562.2L762.8 2577.6L767.8 2585.8L775.8 2602.9L778.8 2607.7L780.8 2608.6L784.8 2608.1L788.8 2606.6L791.8 2604.5L796.8 2596.7L801.8 2582.6L804.8 2564.7L809.8 2493.8L810.8 2484.2L811.8 2483.0L815.8 2532.4L819.8 2568.4L824.8 2600.5L826.8 2608.2L827.8 2609.3L830.8 2608.2L834.8 2604.8L837.8 2601.2L840.8 2596.3L844.8 2587.5L848.8 2570.6L850.8 2565.3L851.8 2565.6L853.8 2570.5L858.8 2591.1L860.8 2596.5L864.8 2604.0L865.8 2604.5L867.8 2603.6L870.8 2598.3L874.8 2587.7L881.8 2556.7L883.8 2552.9L886.8 2550.1L887.8 2550.1L889.8 2552.0L894.8 2562.0L896.8 2564.5L899.8 2564.6L908.8 2562.5L910.8 2563.3L915.8 2577.3L917.8 2579.7L919.8 2579.4L922.8 2577.6L929.8 2570.1L935.8 2555.6L936.8 2554.3L937.8 2554.1L939.8 2557.4L944.8 2574.3L950.8 2589.1L957.8 2602.3L959.8 2605.4L961.8 2607.1L967.8 2606.8L976.8 2604.3L981.8 2602.0L986.8 2598.3L990.8 2593.7L992.8 2589.3L995.8 2579.3L998.8 2565.1L1004.8 2512.3L1014.8 2412.6L1016.8 2401.7L1019.8 2390.7L1022.8 2384.1L1024.8 2383.2L1026.8 2385.2L1029.8 2393.1L1031.8 2401.7L1032.8 2409.9L1038.8 2531.4L1042.8 2575.3L1044.8 2588.9L1046.8 2597.7L1049.8 2604.6L1052.8 2608.8L1054.8 2609.7L1055.8 2608.5L1057.8 2600.7L1062.8 2574.1L1067.8 2559.2L1069.8 2555.0L1071.8 2552.8L1072.8 2552.8L1073.8 2553.7L1074.8 2555.6L1081.8 2579.5L1083.8 2583.9L1084.8 2584.7L1086.8 2584.3L1090.8 2579.6L1093.8 2573.1L1095.8 2564.4L1099.8 2526.8L1102.8 2518.3L1104.8 2515.6L1105.8 2515.3L1107.8 2518.1L1111.8 2532.7L1115.8 2542.3L1119.8 2549.6L1125.8 2557.0L1127.8 2561.1L1134.8 2599.0L1137.8 2607.2L1139.8 2609.5L1140.8 2608.4L1141.8 2605.0L1145.8 2581.7L1147.8 2574.6L1152.8 2567.1L1156.8 2563.5L1160.8 2562.6L1166.8 2564.8L1167.8 2564.6L1168.8 2563.3L1170.8 2557.4L1180.8 2516.8L1183.8 2510.6L1186.8 2507.8L1187.8 2507.9L1188.8 2509.3L1189.8 2512.0L1209.8 2594.6L1211.8 2599.2L1213.8 2600.0L1215.8 2599.6L1216.8 2597.2L1217.8 2591.6L1221.8 2552.1L1226.8 2511.0L1233.8 2433.2L1236.8 2410.5L1238.8 2403.8L1239.8 2404.5L1240.8 2407.7L1243.8 2428.7L1245.8 2454.6L1248.8 2510.9L1250.8 2535.0L1253.8 2557.8L1256.8 2571.5L1258.8 2576.6L1262.8 2583.9L1265.8 2587.7L1268.8 2589.7L1272.8 2589.9L1278.8 2589.0L1289.8 2585.0L1292.8 2580.5L1296.8 2566.1L1301.8 2539.2L1306.8 2506.5L1313.8 2440.8L1320.8 2392.6L1332.8 2244.9L1335.8 2215.3L1336.8 2208.7L1337.8 2206.6L1339.8 2217.1L1347.8 2282.3L1359.8 2390.2L1362.8 2422.6L1365.8 2470.2L1367.8 2491.0L1369.8 2495.8L1375.8 2500.6L1378.8 2504.3L1381.8 2510.2L1384.8 2518.9L1387.8 2535.7L1391.8 2576.1L1395.8 2596.8L1396.8 2599.4L1399.8 2603.4L1402.8 2606.1L1405.8 2607.6L1409.8 2607.7L1418.8 2605.0L1439.8 2607.9L1442.8 2606.1L1449.8 2597.2L1460.4 2593.1L1460.4 2620.1Z" stroke="none"/>
<path d="M109.8 2617.6L109.8 2567.0L112.8 2577.2L115.8 2583.1L120.8 2589.4L128.8 2597.5L134.8 2607.8L137.8 2610.2L139.8 2609.3L145.8 2602.6L147.8 2601.8L155.8 2601.1L157.8 2599.6L158.8 2597.9L162.8 2585.3L168.8 2554.9L170.8 2549.7L171.8 2549.6L173.8 2553.4L181.8 2578.6L183.8 2582.7L184.8 2583.0L185.8 2581.6L187.8 2574.8L192.8 2551.2L193.8 2550.6L194.8 2551.9L202.8 2573.5L207.8 2594.8L210.8 2600.5L211.8 2600.7L213.8 2599.3L217.8 2594.2L223.8 2588.2L228.8 2586.0L230.8 2586.9L239.8 2595.2L243.8 2597.7L246.8 2597.2L250.8 2593.9L252.8 2593.1L256.8 2595.4L258.8 2595.6L260.8 2593.5L262.8 2590.0L270.8 2571.6L275.8 2556.0L281.8 2530.9L284.8 2526.3L286.8 2525.1L288.8 2526.9L290.8 2531.5L292.8 2538.7L295.8 2554.5L297.8 2560.2L300.8 2566.2L304.8 2571.7L309.8 2576.4L319.8 2582.9L322.8 2583.6L323.8 2582.4L325.8 2573.9L339.8 2477.8L342.8 2467.6L344.8 2463.8L345.8 2463.2L346.8 2464.0L347.8 2466.4L350.8 2479.1L357.8 2522.3L358.8 2524.4L359.8 2524.7L364.8 2523.5L365.8 2523.8L366.8 2525.1L376.8 2561.6L378.8 2567.4L380.8 2570.9L382.8 2571.5L386.8 2569.3L390.8 2564.4L393.8 2558.8L395.8 2548.7L400.8 2510.9L402.8 2500.5L404.8 2495.5L405.8 2496.4L406.8 2499.9L414.8 2545.4L416.8 2549.4L421.8 2552.5L423.8 2554.9L434.8 2583.3L438.8 2590.7L441.8 2592.7L448.8 2594.5L462.8 2596.0L469.8 2596.1L473.8 2594.0L479.8 2587.9L485.8 2583.7L488.8 2580.8L491.8 2573.7L493.8 2561.5L496.8 2515.1L499.8 2410.0L504.8 2139.6L506.8 2073.5L507.8 2065.9L508.8 2077.3L510.8 2149.1L516.8 2460.2L519.8 2539.2L521.8 2563.2L523.8 2574.4L525.8 2579.4L536.8 2595.3L537.8 2595.8L538.8 2594.8L540.8 2587.1L547.8 2539.3L549.8 2529.9L550.8 2530.3L551.8 2534.7L557.8 2575.5L558.8 2580.2L560.8 2584.8L563.8 2587.6L566.8 2589.0L580.8 2589.2L584.8 2586.7L589.8 2579.7L591.8 2573.9L594.8 2557.4L605.8 2471.0L608.8 2454.5L610.8 2449.3L611.8 2450.4L613.8 2459.8L619.8 2503.0L625.8 2523.0L634.8 2573.5L638.8 2587.9L639.8 2589.0L640.8 2588.5L645.8 2572.4L646.8 2570.4L647.8 2570.2L651.8 2580.8L654.8 2585.2L656.8 2586.7L658.8 2586.7L665.8 2584.5L668.8 2584.4L680.8 2589.3L690.8 2592.2L696.8 2593.0L699.8 2592.5L702.8 2590.9L704.8 2588.6L706.8 2584.8L709.8 2575.3L712.8 2559.5L721.8 2487.8L728.8 2447.4L730.8 2428.4L732.8 2397.0L734.8 2349.8L741.8 2120.4L743.8 2088.8L744.8 2088.6L745.8 2102.0L747.8 2165.9L753.8 2438.4L755.8 2499.8L757.8 2539.4L759.8 2562.2L762.8 2577.6L767.8 2585.8L775.8 2602.9L778.8 2607.7L780.8 2608.6L784.8 2608.1L788.8 2606.6L791.8 2604.5L796.8 2596.7L801.8 2582.6L804.8 2564.7L809.8 2493.8L810.8 2484.2L811.8 2483.0L815.8 2532.4L819.8 2568.4L824.8 2600.5L826.8 2608.2L827.8 2609.3L830.8 2608.2L834.8 2604.8L837.8 2601.2L840.8 2596.3L844.8 2587.5L848.8 2570.6L850.8 2565.3L851.8 2565.6L853.8 2570.5L858.8 2591.1L860.8 2596.5L864.8 2604.0L865.8 2604.5L867.8 2603.6L870.8 2598.3L874.8 2587.7L881.8 2556.7L883.8 2552.9L886.8 2550.1L887.8 2550.1L889.8 2552.0L894.8 2562.0L896.8 2564.5L899.8 2564.6L908.8 2562.5L910.8 2563.3L915.8 2577.3L917.8 2579.7L919.8 2579.4L922.8 2577.6L929.8 2570.1L935.8 2555.6L936.8 2554.3L937.8 2554.1L939.8 2557.4L944.8 2574.3L950.8 2589.1L957.8 2602.3L959.8 2605.4L961.8 2607.1L967.8 2606.8L976.8 2604.3L981.8 2602.0L986.8 2598.3L990.8 2593.7L992.8 2589.3L995.8 2579.3L998.8 2565.1L1004.8 2512.3L1014.8 2412.6L1016.8 2401.7L1019.8 2390.7L1022.8 2384.1L1024.8 2383.2L1026.8 2385.2L1029.8 2393.1L1031.8 2401.7L1032.8 2409.9L1038.8 2531.4L1042.8 2575.3L1044.8 2588.9L1046.8 2597.7L1049.8 2604.6L1052.8 2608.8L1054.8 2609.7L1055.8 2608.5L1057.8 2600.7L1062.8 2574.1L1067.8 2559.2L1069.8 2555.0L1071.8 2552.8L1072.8 2552.8L1073.8 2553.7L1074.8 2555.6L1081.8 2579.5L1083.8 2583.9L1084.8 2584.7L1086.8 2584.3L1090.8 2579.6L1093.8 2573.1L1095.8 2564.4L1099.8 2526.8L1102.8 2518.3L1104.8 2515.6L1105.8 2515.3L1107.8 2518.1L1111.8 2532.7L1115.8 2542.3L1119.8 2549.6L1125.8 2557.0L1127.8 2561.1L1134.8 2599.0L1137.8 2607.2L1139.8 2609.5L1140.8 2608.4L1141.8 2605.0L1145.8 2581.7L1147.8 2574.6L1152.8 2567.1L1156.8 2563.5L1160.8 2562.6L1166.8 2564.8L1167.8 2564.6L1168.8 2563.3L1170.8 2557.4L1180.8 2516.8L1183.8 2510.6L1186.8 2507.8L1187.8 2507.9L1188.8 2509.3L1189.8 2512.0L1209.8 2594.6L1211.8 2599.2L1213.8 2600.0L1215.8 2599.6L1216.8 2597.2L1217.8 2591.6L1221.8 2552.1L1226.8 2511.0L1233.8 2433.2L1236.8 2410.5L1238.8 2403.8L1239.8 2404.5L1240.8 2407.7L1243.8 2428.7L1245.8 2454.6L1248.8 2510.9L1250.8 2535.0L1253.8 2557.8L1256.8 2571.5L1258.8 2576.6L1262.8 2583.9L1265.8 2587.7L1268.8 2589.7L1272.8 2589.9L1278.8 2589.0L1289.8 2585.0L1292.8 2580.5L1296.8 2566.1L1301.8 2539.2L1306.8 2506.5L1313.8 2440.8L1320.8 2392.6L1332.8 2244.9L1335.8 2215.3L1336.8 2208.7L1337.8 2206.6L1339.8 2217.1L1347.8 2282.3L1359.8 2390.2L1362.8 2422.6L1365.8 2470.2L1367.8 2491.0L1369.8 2495.8L1375.8 2500.6L1378.8 2504.3L1381.8 2510.2L1384.8 2518.9L1387.8 2535.7L1391.8 2576.1L1395.8 2596.8L1396.8 2599.4L1399.8 2603.4L1402.8 2606.1L1405.8 2607.6L1409.8 2607.7L1418.8 2605.0L1439.8 2607.9L1442.8 2606.1L1449.8 2597.2L1460.4 2593.1L1460.4 2620.1" fill="none" stroke="#0000ff"/>
<path d="M109.8 2617.6L109.8 2567.0M1460.4 2620.1L1460.4 2593.1" fill="none" stroke="#0000ff" stroke-width="8.7"/>
<path d="M66.6 2668.1L66.6 2653.5L72.6 2646.9L76.6 2641.4L78.6 2640.1L80.6 2640.4L82.6 2641.8L87.6 2649.5L91.6 2651.6L94.6 2651.9L101.6 2650.5L109.6 2640.9L112.6 2639.6L116.6 2640.9L121.6 2645.7L130.6 2648.0L135.6 2652.8L139.6 2654.3L142.6 2654.1L145.6 2652.1L147.6 2649.7L155.6 2625.7L158.6 2621.9L160.6 2621.1L163.6 2623.3L166.6 2628.3L174.6 2650.3L176.6 2654.4L179.6 2657.7L182.6 2659.8L184.6 2660.4L186.6 2659.8L192.6 2654.2L203.6 2641.3L209.6 2635.5L212.6 2635.4L220.6 2640.8L224.6 2640.1L227.6 2638.0L230.6 2630.7L232.6 2622.6L240.6 2576.6L242.6 2571.6L244.6 2570.2L245.6 2570.4L247.6 2573.3L249.6 2579.3L257.6 2623.5L262.6 2642.7L267.6 2653.0L271.6 2655.6L273.6 2655.8L275.6 2655.3L280.6 2651.7L283.6 2647.9L289.6 2637.6L292.6 2630.0L295.6 2616.3L302.6 2569.0L304.6 2561.9L305.6 2561.4L316.6 2575.8L325.6 2589.6L330.6 2618.1L332.6 2623.3L334.6 2625.6L347.6 2628.3L361.6 2632.7L365.6 2634.5L368.6 2637.3L370.6 2640.3L374.6 2651.4L376.6 2653.3L379.6 2654.4L382.6 2654.4L386.6 2652.6L392.6 2639.7L396.6 2636.0L400.6 2634.4L403.6 2635.2L408.6 2639.4L416.6 2652.4L423.6 2658.7L425.6 2659.2L428.6 2658.3L433.6 2654.6L436.6 2651.3L441.6 2642.8L448.6 2623.8L450.6 2612.6L452.6 2588.3L454.6 2541.4L456.6 2463.8L462.6 2141.2L463.6 2114.1L464.6 2106.0L465.6 2118.0L467.6 2193.6L473.6 2513.6L476.6 2590.6L478.6 2613.0L479.6 2619.1L481.6 2625.8L489.6 2636.8L494.6 2640.9L499.6 2650.1L502.6 2652.5L504.6 2653.1L506.6 2651.5L513.6 2637.6L514.6 2636.0L516.6 2635.0L523.6 2637.4L528.6 2641.0L532.6 2645.0L538.6 2653.3L544.6 2659.1L547.6 2659.2L550.6 2657.8L552.6 2656.2L554.6 2652.9L556.6 2644.8L557.6 2636.3L565.6 2519.0L566.6 2510.5L567.6 2507.9L569.6 2511.1L572.6 2521.6L578.6 2549.7L580.6 2552.9L584.6 2557.2L586.6 2562.8L593.6 2614.2L595.6 2621.7L597.6 2625.2L613.6 2645.3L617.6 2647.5L625.6 2649.2L628.6 2650.5L632.6 2657.0L634.6 2659.0L639.6 2657.9L653.6 2651.2L657.6 2647.9L660.6 2642.3L664.6 2628.0L668.6 2607.9L678.6 2530.0L685.6 2492.5L687.6 2475.1L689.6 2446.1L691.6 2402.2L697.6 2213.9L699.6 2168.9L700.6 2158.7L701.6 2158.7L703.6 2196.9L710.6 2490.0L712.6 2548.3L714.6 2586.1L716.6 2608.0L719.6 2623.2L722.6 2629.0L729.6 2635.1L735.6 2649.3L737.6 2652.3L739.6 2653.0L748.6 2653.5L751.6 2650.1L756.6 2636.0L761.6 2611.9L764.6 2602.7L767.6 2597.3L768.6 2597.7L769.6 2600.4L776.6 2630.9L782.6 2649.6L786.6 2658.3L787.6 2659.2L789.6 2659.2L791.6 2657.5L794.6 2653.3L807.6 2630.5L823.6 2622.1L827.6 2619.1L831.6 2614.8L834.6 2609.3L839.6 2592.2L841.6 2589.4L845.6 2588.1L846.6 2589.2L847.6 2592.1L851.6 2609.8L856.6 2625.9L859.6 2631.8L864.6 2638.7L867.6 2640.7L869.6 2640.2L871.6 2637.4L876.6 2627.2L878.6 2624.8L886.6 2620.6L889.6 2620.0L892.6 2620.2L896.6 2622.8L901.6 2628.6L907.6 2643.2L914.6 2656.7L917.6 2659.6L918.6 2659.8L920.6 2658.7L925.6 2650.4L930.6 2631.1L932.6 2626.4L935.6 2621.5L945.6 2608.8L948.6 2606.3L950.6 2606.9L955.6 2618.5L956.6 2619.6L957.6 2619.7L959.6 2618.4L961.6 2615.7L965.6 2607.0L967.6 2597.9L970.6 2577.0L972.6 2555.1L977.6 2480.5L979.6 2462.5L981.6 2453.5L982.6 2453.8L983.6 2456.6L986.6 2473.2L994.6 2544.7L1000.6 2585.7L1012.6 2645.3L1014.6 2652.2L1017.6 2658.2L1018.6 2658.7L1019.6 2658.0L1022.6 2652.0L1024.6 2644.3L1027.6 2627.6L1028.6 2625.1L1030.6 2623.4L1032.6 2622.6L1034.6 2623.3L1037.6 2628.9L1041.6 2639.5L1045.6 2653.6L1047.6 2658.1L1048.6 2658.8L1050.6 2658.5L1055.6 2655.2L1059.6 2649.8L1063.6 2640.0L1069.6 2614.6L1073.6 2607.2L1075.6 2605.0L1077.6 2603.9L1079.6 2604.9L1081.6 2609.7L1091.6 2648.8L1093.6 2652.4L1095.6 2653.3L1098.6 2653.4L1099.6 2652.3L1105.6 2633.3L1109.6 2623.7L1112.6 2619.2L1113.6 2619.1L1114.6 2620.2L1119.6 2632.2L1123.6 2634.5L1126.6 2634.9L1129.6 2633.4L1133.6 2629.6L1140.6 2615.4L1145.6 2611.6L1150.6 2610.0L1152.6 2610.3L1155.6 2612.1L1161.6 2618.6L1173.6 2646.3L1178.6 2653.2L1182.6 2656.8L1184.6 2657.3L1186.6 2655.6L1193.6 2639.7L1198.6 2632.2L1201.6 2630.1L1203.6 2631.1L1206.6 2635.9L1209.6 2642.5L1213.6 2655.5L1215.6 2659.5L1216.6 2659.6L1217.6 2658.9L1221.6 2653.7L1223.6 2652.6L1232.6 2654.9L1236.6 2653.9L1239.6 2651.4L1241.6 2648.8L1245.6 2636.1L1257.6 2558.2L1258.6 2556.2L1259.6 2555.8L1268.6 2556.0L1270.6 2554.6L1273.6 2549.0L1275.6 2540.7L1279.6 2498.3L1291.6 2330.5L1293.6 2310.5L1294.6 2307.4L1295.6 2308.1L1296.6 2310.6L1300.6 2327.5L1307.6 2372.3L1322.6 2566.9L1324.6 2583.3L1327.6 2597.0L1328.6 2599.4L1329.6 2600.2L1330.6 2599.9L1336.6 2590.7L1338.6 2589.7L1339.6 2590.6L1341.6 2595.6L1344.6 2607.2L1349.6 2633.5L1351.6 2640.7L1354.6 2646.6L1357.6 2650.9L1365.6 2660.0L1370.6 2663.6L1372.6 2663.9L1374.6 2662.9L1380.6 2656.4L1382.6 2655.1L1398.6 2653.9L1402.6 2652.9L1406.6 2649.2L1417.2 2635.6L1417.2 2670.6Z" stroke="none"/>
<path d="M66.6 2668.1L66.6 2653.5L72.6 2646.9L76.6 2641.4L78.6 2640.1L80.6 2640.4L82.6 2641.8L87.6 2649.5L91.6 2651.6L94.6 2651.9L101.6 2650.5L109.6 2640.9L112.6 2639.6L116.6 2640.9L121.6 2645.7L130.6 2648.0L135.6 2652.8L139.6 2654.3L142.6 2654.1L145.6 2652.1L147.6 2649.7L155.6 2625.7L158.6 2621.9L160.6 2621.1L163.6 2623.3L166.6 2628.3L174.6 2650.3L176.6 2654.4L179.6 2657.7L182.6 2659.8L184.6 2660.4L186.6 2659.8L192.6 2654.2L203.6 2641.3L209.6 2635.5L212.6 2635.4L220.6 2640.8L224.6 2640.1L227.6 2638.0L230.6 2630.7L232.6 2622.6L240.6 2576.6L242.6 2571.6L244.6 2570.2L245.6 2570.4L247.6 2573.3L249.6 2579.3L257.6 2623.5L262.6 2642.7L267.6 2653.0L271.6 2655.6L273.6 2655.8L275.6 2655.3L280.6 2651.7L283.6 2647.9L289.6 2637.6L292.6 2630.0L295.6 2616.3L302.6 2569.0L304.6 2561.9L305.6 2561.4L316.6 2575.8L325.6 2589.6L330.6 2618.1L332.6 2623.3L334.6 2625.6L347.6 2628.3L361.6 2632.7L365.6 2634.5L368.6 2637.3L370.6 2640.3L374.6 2651.4L376.6 2653.3L379.6 2654.4L382.6 2654.4L386.6 2652.6L392.6 2639.7L396.6 2636.0L400.6 2634.4L403.6 2635.2L408.6 2639.4L416.6 2652.4L423.6 2658.7L425.6 2659.2L428.6 2658.3L433.6 2654.6L436.6 2651.3L441.6 2642.8L448.6 2623.8L450.6 2612.6L452.6 2588.3L454.6 2541.4L456.6 2463.8L462.6 2141.2L463.6 2114.1L464.6 2106.0L465.6 2118.0L467.6 2193.6L473.6 2513.6L476.6 2590.6L478.6 2613.0L479.6 2619.1L481.6 2625.8L489.6 2636.8L494.6 2640.9L499.6 2650.1L502.6 2652.5L504.6 2653.1L506.6 2651.5L513.6 2637.6L514.6 2636.0L516.6 2635.0L523.6 2637.4L528.6 2641.0L532.6 2645.0L538.6 2653.3L544.6 2659.1L547.6 2659.2L550.6 2657.8L552.6 2656.2L554.6 2652.9L556.6 2644.8L557.6 2636.3L565.6 2519.0L566.6 2510.5L567.6 2507.9L569.6 2511.1L572.6 2521.6L578.6 2549.7L580.6 2552.9L584.6 2557.2L586.6 2562.8L593.6 2614.2L595.6 2621.7L597.6 2625.2L613.6 2645.3L617.6 2647.5L625.6 2649.2L628.6 2650.5L632.6 2657.0L634.6 2659.0L639.6 2657.9L653.6 2651.2L657.6 2647.9L660.6 2642.3L664.6 2628.0L668.6 2607.9L678.6 2530.0L685.6 2492.5L687.6 2475.1L689.6 2446.1L691.6 2402.2L697.6 2213.9L699.6 2168.9L700.6 2158.7L701.6 2158.7L703.6 2196.9L710.6 2490.0L712.6 2548.3L714.6 2586.1L716.6 2608.0L719.6 2623.2L722.6 2629.0L729.6 2635.1L735.6 2649.3L737.6 2652.3L739.6 2653.0L748.6 2653.5L751.6 2650.1L756.6 2636.0L761.6 2611.9L764.6 2602.7L767.6 2597.3L768.6 2597.7L769.6 2600.4L776.6 2630.9L782.6 2649.6L786.6 2658.3L787.6 2659.2L789.6 2659.2L791.6 2657.5L794.6 2653.3L807.6 2630.5L823.6 2622.1L827.6 2619.1L831.6 2614.8L834.6 2609.3L839.6 2592.2L841.6 2589.4L845.6 2588.1L846.6 2589.2L847.6 2592.1L851.6 2609.8L856.6 2625.9L859.6 2631.8L864.6 2638.7L867.6 2640.7L869.6 2640.2L871.6 2637.4L876.6 2627.2L878.6 2624.8L886.6 2620.6L889.6 2620.0L892.6 2620.2L896.6 2622.8L901.6 2628.6L907.6 2643.2L914.6 2656.7L917.6 2659.6L918.6 2659.8L920.6 2658.7L925.6 2650.4L930.6 2631.1L932.6 2626.4L935.6 2621.5L945.6 2608.8L948.6 2606.3L950.6 2606.9L955.6 2618.5L956.6 2619.6L957.6 2619.7L959.6 2618.4L961.6 2615.7L965.6 2607.0L967.6 2597.9L970.6 2577.0L972.6 2555.1L977.6 2480.5L979.6 2462.5L981.6 2453.5L982.6 2453.8L983.6 2456.6L986.6 2473.2L994.6 2544.7L1000.6 2585.7L1012.6 2645.3L1014.6 2652.2L1017.6 2658.2L1018.6 2658.7L1019.6 2658.0L1022.6 2652.0L1024.6 2644.3L1027.6 2627.6L1028.6 2625.1L1030.6 2623.4L1032.6 2622.6L1034.6 2623.3L1037.6 2628.9L1041.6 2639.5L1045.6 2653.6L1047.6 2658.1L1048.6 2658.8L1050.6 2658.5L1055.6 2655.2L1059.6 2649.8L1063.6 2640.0L1069.6 2614.6L1073.6 2607.2L1075.6 2605.0L1077.6 2603.9L1079.6 2604.9L1081.6 2609.7L1091.6 2648.8L1093.6 2652.4L1095.6 2653.3L1098.6 2653.4L1099.6 2652.3L1105.6 2633.3L1109.6 2623.7L1112.6 2619.2L1113.6 2619.1L1114.6 2620.2L1119.6 2632.2L1123.6 2634.5L1126.6 2634.9L1129.6 2633.4L1133.6 2629.6L1140.6 2615.4L1145.6 2611.6L1150.6 2610.0L1152.6 2610.3L1155.6 2612.1L1161.6 2618.6L1173.6 2646.3L1178.6 2653.2L1182.6 2656.8L1184.6 2657.3L1186.6 2655.6L1193.6 2639.7L1198.6 2632.2L1201.6 2630.1L1203.6 2631.1L1206.6 2635.9L1209.6 2642.5L1213.6 2655.5L1215.6 2659.5L1216.6 2659.6L1217.6 2658.9L1221.6 2653.7L1223.6 2652.6L1232.6 2654.9L1236.6 2653.9L1239.6 2651.4L1241.6 2648.8L1245.6 2636.1L1257.6 2558.2L1258.6 2556.2L1259.6 2555.8L1268.6 2556.0L1270.6 2554.6L1273.6 2549.0L1275.6 2540.7L1279.6 2498.3L1291.6 2330.5L1293.6 2310.5L1294.6 2307.4L1295.6 2308.1L1296.6 2310.6L1300.6 2327.5L1307.6 2372.3L1322.6 2566.9L1324.6 2583.3L1327.6 2597.0L1328.6 2599.4L1329.6 2600.2L1330.6 2599.9L1336.6 2590.7L1338.6 2589.7L1339.6 2590.6L1341.6 2595.6L1344.6 2607.2L1349.6 2633.5L1351.6 2640.7L1354.6 2646.6L1357.6 2650.9L1365.6 2660.0L1370.6 2663.6L1372.6 2663.9L1374.6 2662.9L1380.6 2656.4L1382.6 2655.1L1398.6 2653.9L1402.6 2652.9L1406.6 2649.2L1417.2 2635.6L1417.2 2670.6" fill="none" stroke="#0000ff"/>
<path d="M66.6 2668.1L66.6 2653.5M1417.2 2670.6L1417.2 2635.6" fill="none" stroke="#0000ff" stroke-width="8.7"/>
</g>
<g stroke="#000" fill="none" shape-rendering="crispEdges">
<path d="M45.0 2130.5 L45.0 2694.9" stroke-width="3.5"/>
<path d="M43.3 2693.4 L1398.0 2693.4" stroke-width="3"/>
<path d="M45.0 2130.0 L476.0 1625.1" stroke-width="2.2"/>
<path d="M1398.0 2693.4 L1829.0 2188.0" stroke-width="2.4"/>
</g>
<text transform="translate(45.00,2734.50) scale(1.16,1)" font-size="30" font-weight="bold" text-anchor="middle" >400</text>
<text transform="translate(252.75,2734.50) scale(1.16,1)" font-size="30" font-weight="bold" text-anchor="middle" >600</text>
<text transform="translate(460.50,2734.50) scale(1.16,1)" font-size="30" font-weight="bold" text-anchor="middle" >800</text>
<text transform="translate(668.25,2734.50) scale(1.16,1)" font-size="30" font-weight="bold" text-anchor="middle" >1000</text>
<text transform="translate(876.00,2734.50) scale(1.16,1)" font-size="30" font-weight="bold" text-anchor="middle" >1200</text>
<text transform="translate(1083.75,2734.50) scale(1.16,1)" font-size="30" font-weight="bold" text-anchor="middle" >1400</text>
<text transform="translate(1291.50,2734.50) scale(1.16,1)" font-size="30" font-weight="bold" text-anchor="middle" >1600</text>
<text transform="translate(639.5,2815) scale(1.12,1)" font-weight="bold" font-size="30"><tspan x="0" y="0">Raman shift </tspan><tspan x="176.3" y="-8" font-size="60" font-weight="normal">(</tspan><tspan x="195.1" y="0">cm</tspan><tspan x="233.5" y="-26.4">-1</tspan><tspan x="257.6" y="-8" font-size="60" font-weight="normal">)</tspan></text>
<text x="527 544.5 564" y="1679.4" font-weight="bold" font-size="30">(c)</text>
<g>
<rect x="195.96" y="3188.80" width="132.5" height="931.20" fill="#ff0000" stroke="#000" stroke-width="3.5"/>
<rect x="361.18" y="3218.30" width="132.5" height="901.70" fill="#ff0000" stroke="#000" stroke-width="3.5"/>
<rect x="526.40" y="3161.80" width="132.5" height="958.20" fill="#ff0000" stroke="#000" stroke-width="3.5"/>
<rect x="691.62" y="3248.80" width="132.5" height="871.20" fill="#ff0000" stroke="#000" stroke-width="3.5"/>
<rect x="856.84" y="3214.30" width="132.5" height="905.70" fill="#ff0000" stroke="#000" stroke-width="3.5"/>
<rect x="1022.06" y="3156.80" width="132.5" height="963.20" fill="#ff0000" stroke="#000" stroke-width="3.5"/>
<rect x="1187.28" y="3226.00" width="132.5" height="894.00" fill="#ff0000" stroke="#000" stroke-width="3.5"/>
<rect x="1352.50" y="3224.30" width="132.5" height="895.70" fill="#ff0000" stroke="#000" stroke-width="3.5"/>
<rect x="1517.72" y="3168.60" width="132.5" height="951.40" fill="#ff0000" stroke="#000" stroke-width="3.5"/>
<rect x="1682.94" y="3149.30" width="132.5" height="970.70" fill="#ff0000" stroke="#000" stroke-width="3.5"/>
</g>
<g shape-rendering="crispEdges">
<line x1="262.21" y1="3143.90" x2="262.21" y2="3236.00" stroke="#000" stroke-width="2" />
<line x1="250.21" y1="3143.90" x2="274.21" y2="3143.90" stroke="#000" stroke-width="2" />
<line x1="250.21" y1="3236.00" x2="274.21" y2="3236.00" stroke="#000" stroke-width="2" />
<line x1="427.43" y1="3172.50" x2="427.43" y2="3262.70" stroke="#000" stroke-width="2" />
<line x1="415.43" y1="3172.50" x2="439.43" y2="3172.50" stroke="#000" stroke-width="2" />
<line x1="415.43" y1="3262.70" x2="439.43" y2="3262.70" stroke="#000" stroke-width="2" />
<line x1="592.65" y1="3114.40" x2="592.65" y2="3209.40" stroke="#000" stroke-width="2" />
<line x1="580.65" y1="3114.40" x2="604.65" y2="3114.40" stroke="#000" stroke-width="2" />
<line x1="580.65" y1="3209.40" x2="604.65" y2="3209.40" stroke="#000" stroke-width="2" />
<line x1="757.87" y1="3205.00" x2="757.87" y2="3291.90" stroke="#000" stroke-width="2" />
<line x1="745.87" y1="3205.00" x2="769.87" y2="3205.00" stroke="#000" stroke-width="2" />
<line x1="745.87" y1="3291.90" x2="769.87" y2="3291.90" stroke="#000" stroke-width="2" />
<line x1="923.09" y1="3168.75" x2="923.09" y2="3259.40" stroke="#000" stroke-width="2" />
<line x1="911.09" y1="3168.75" x2="935.09" y2="3168.75" stroke="#000" stroke-width="2" />
<line x1="911.09" y1="3259.40" x2="935.09" y2="3259.40" stroke="#000" stroke-width="2" />
<line x1="1088.31" y1="3106.90" x2="1088.31" y2="3203.10" stroke="#000" stroke-width="2" />
<line x1="1076.31" y1="3106.90" x2="1100.31" y2="3106.90" stroke="#000" stroke-width="2" />
<line x1="1076.31" y1="3203.10" x2="1100.31" y2="3203.10" stroke="#000" stroke-width="2" />
<line x1="1253.53" y1="3181.90" x2="1253.53" y2="3270.60" stroke="#000" stroke-width="2" />
<line x1="1241.53" y1="3181.90" x2="1265.53" y2="3181.90" stroke="#000" stroke-width="2" />
<line x1="1241.53" y1="3270.60" x2="1265.53" y2="3270.60" stroke="#000" stroke-width="2" />
<line x1="1418.75" y1="3180.00" x2="1418.75" y2="3268.75" stroke="#000" stroke-width="2" />
<line x1="1406.75" y1="3180.00" x2="1430.75" y2="3180.00" stroke="#000" stroke-width="2" />
<line x1="1406.75" y1="3268.75" x2="1430.75" y2="3268.75" stroke="#000" stroke-width="2" />
<line x1="1583.97" y1="3118.75" x2="1583.97" y2="3215.00" stroke="#000" stroke-width="2" />
<line x1="1571.97" y1="3118.75" x2="1595.97" y2="3118.75" stroke="#000" stroke-width="2" />
<line x1="1571.97" y1="3215.00" x2="1595.97" y2="3215.00" stroke="#000" stroke-width="2" />
<line x1="1749.19" y1="3099.40" x2="1749.19" y2="3198.10" stroke="#000" stroke-width="2" />
<line x1="1737.19" y1="3099.40" x2="1761.19" y2="3099.40" stroke="#000" stroke-width="2" />
<line x1="1737.19" y1="3198.10" x2="1761.19" y2="3198.10" stroke="#000" stroke-width="2" />
<rect x="179.6" y="2889.0" width="1652.2" height="1231.0" fill="none" stroke="#000" stroke-width="4"/>
<line x1="262.21" y1="4120.00" x2="262.21" y2="4142.00" stroke="#000" stroke-width="3" />
<line x1="427.43" y1="4120.00" x2="427.43" y2="4142.00" stroke="#000" stroke-width="3" />
<line x1="592.65" y1="4120.00" x2="592.65" y2="4142.00" stroke="#000" stroke-width="3" />
<line x1="757.87" y1="4120.00" x2="757.87" y2="4142.00" stroke="#000" stroke-width="3" />
<line x1="923.09" y1="4120.00" x2="923.09" y2="4142.00" stroke="#000" stroke-width="3" />
<line x1="1088.31" y1="4120.00" x2="1088.31" y2="4142.00" stroke="#000" stroke-width="3" />
<line x1="1253.53" y1="4120.00" x2="1253.53" y2="4142.00" stroke="#000" stroke-width="3" />
<line x1="1418.75" y1="4120.00" x2="1418.75" y2="4142.00" stroke="#000" stroke-width="3" />
<line x1="1583.97" y1="4120.00" x2="1583.97" y2="4142.00" stroke="#000" stroke-width="3" />
<line x1="1749.19" y1="4120.00" x2="1749.19" y2="4142.00" stroke="#000" stroke-width="3" />
<line x1="179.60" y1="4120.00" x2="179.60" y2="4131.00" stroke="#000" stroke-width="3" />
<line x1="344.82" y1="4120.00" x2="344.82" y2="4131.00" stroke="#000" stroke-width="3" />
<line x1="510.04" y1="4120.00" x2="510.04" y2="4131.00" stroke="#000" stroke-width="3" />
<line x1="675.26" y1="4120.00" x2="675.26" y2="4131.00" stroke="#000" stroke-width="3" />
<line x1="840.48" y1="4120.00" x2="840.48" y2="4131.00" stroke="#000" stroke-width="3" />
<line x1="1005.70" y1="4120.00" x2="1005.70" y2="4131.00" stroke="#000" stroke-width="3" />
<line x1="1170.92" y1="4120.00" x2="1170.92" y2="4131.00" stroke="#000" stroke-width="3" />
<line x1="1336.14" y1="4120.00" x2="1336.14" y2="4131.00" stroke="#000" stroke-width="3" />
<line x1="1501.36" y1="4120.00" x2="1501.36" y2="4131.00" stroke="#000" stroke-width="3" />
<line x1="1666.58" y1="4120.00" x2="1666.58" y2="4131.00" stroke="#000" stroke-width="3" />
<line x1="1831.80" y1="4120.00" x2="1831.80" y2="4131.00" stroke="#000" stroke-width="3" />
</g>
<rect x="1158" y="2909.5" width="130.5" height="62.5" fill="#ff0000" stroke="#000" stroke-width="3.5"/>
<text transform="translate(261.21,4204.00) scale(1.1,1)" font-size="54.5" font-weight="bold" text-anchor="middle" >1</text>
<text transform="translate(426.43,4204.00) scale(1.1,1)" font-size="54.5" font-weight="bold" text-anchor="middle" >2</text>
<text transform="translate(591.65,4204.00) scale(1.1,1)" font-size="54.5" font-weight="bold" text-anchor="middle" >3</text>
<text transform="translate(756.87,4204.00) scale(1.1,1)" font-size="54.5" font-weight="bold" text-anchor="middle" >4</text>
<text transform="translate(922.09,4204.00) scale(1.1,1)" font-size="54.5" font-weight="bold" text-anchor="middle" >5</text>
<text transform="translate(1087.31,4204.00) scale(1.1,1)" font-size="54.5" font-weight="bold" text-anchor="middle" >6</text>
<text transform="translate(1252.53,4204.00) scale(1.1,1)" font-size="54.5" font-weight="bold" text-anchor="middle" >7</text>
<text transform="translate(1417.75,4204.00) scale(1.1,1)" font-size="54.5" font-weight="bold" text-anchor="middle" >8</text>
<text transform="translate(1582.97,4204.00) scale(1.1,1)" font-size="54.5" font-weight="bold" text-anchor="middle" >9</text>
<text transform="translate(1748.19,4204.00) scale(1.1,1)" font-size="54.5" font-weight="bold" text-anchor="middle" >10</text>
<text transform="translate(1005.80,4303.70) scale(1.072,1)" font-size="54" font-weight="bold" text-anchor="middle" >Sample Number</text>
<text transform="translate(130.3,3591.8) rotate(-90)" font-weight="bold" font-size="59"><tspan x="-2" y="0">Intensity</tspan><tspan x="240.2" y="-3" font-size="52" font-weight="normal">（</tspan><tspan x="296.8" y="0">a.u.</tspan><tspan x="394" y="-3" font-size="52" font-weight="normal">）</tspan></text>
<text transform="translate(210.00,2968.20) scale(1.08,1)" font-size="55.5" font-weight="bold" text-anchor="start" >(d)</text>
<text transform="translate(1312.5,2970) scale(1.075,1)" font-size="56">782cm<tspan dy="-21" dx="0" font-size="35">-1</tspan></text>
<text transform="translate(1312.50,3042.50) scale(1.068,1)" font-size="56" font-weight="normal" text-anchor="start" >RSD = 4.13%</text>
</svg>
</body></html>
